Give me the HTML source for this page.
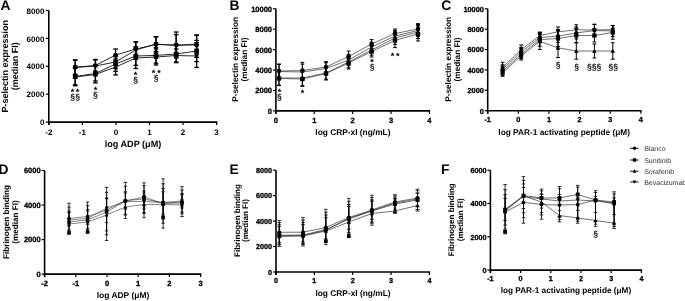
<!DOCTYPE html>
<html><head><meta charset="utf-8"><style>
html,body{margin:0;padding:0;background:#fff;}
body{width:685px;height:301px;overflow:hidden;}
svg{display:block;font-family:"Liberation Sans", sans-serif;text-rendering:geometricPrecision;}
#w{width:685px;height:301px;filter:grayscale(1);}
</style></head><body><div id="w">
<svg width="685" height="301" viewBox="0 0 685 301">
<rect width="685" height="301" fill="#fff"/>
<line x1="48.8" y1="10.5" x2="48.8" y2="125.1" stroke="#000" stroke-width="1.6"/>
<line x1="48.05" y1="122.1" x2="217.35" y2="122.1" stroke="#000" stroke-width="1.6"/>
<line x1="48.8" y1="122.1" x2="48.8" y2="125.1" stroke="#000" stroke-width="1.2"/>
<text x="48.8" y="134.7" font-size="8.0" font-weight="bold" text-anchor="middle" fill="#000">-2</text>
<line x1="82.36" y1="122.1" x2="82.36" y2="125.1" stroke="#000" stroke-width="1.2"/>
<text x="82.36" y="134.7" font-size="8.0" font-weight="bold" text-anchor="middle" fill="#000">-1</text>
<line x1="115.92" y1="122.1" x2="115.92" y2="125.1" stroke="#000" stroke-width="1.2"/>
<text x="115.92" y="134.7" font-size="8.0" font-weight="bold" text-anchor="middle" fill="#000">0</text>
<line x1="149.48" y1="122.1" x2="149.48" y2="125.1" stroke="#000" stroke-width="1.2"/>
<text x="149.48" y="134.7" font-size="8.0" font-weight="bold" text-anchor="middle" fill="#000">1</text>
<line x1="183.04" y1="122.1" x2="183.04" y2="125.1" stroke="#000" stroke-width="1.2"/>
<text x="183.04" y="134.7" font-size="8.0" font-weight="bold" text-anchor="middle" fill="#000">2</text>
<line x1="216.60" y1="122.1" x2="216.60" y2="125.1" stroke="#000" stroke-width="1.2"/>
<text x="216.60" y="134.7" font-size="8.0" font-weight="bold" text-anchor="middle" fill="#000">3</text>
<line x1="45.8" y1="122.1" x2="48.8" y2="122.1" stroke="#000" stroke-width="1.2"/>
<text x="44.4" y="125.22" font-size="8.0" font-weight="bold" text-anchor="end" fill="#000">0</text>
<line x1="45.8" y1="94.19" x2="48.8" y2="94.19" stroke="#000" stroke-width="1.2"/>
<text x="44.4" y="97.32" font-size="8.0" font-weight="bold" text-anchor="end" fill="#000">2000</text>
<line x1="45.8" y1="66.3" x2="48.8" y2="66.3" stroke="#000" stroke-width="1.2"/>
<text x="44.4" y="69.42" font-size="8.0" font-weight="bold" text-anchor="end" fill="#000">4000</text>
<line x1="45.8" y1="38.40" x2="48.8" y2="38.40" stroke="#000" stroke-width="1.2"/>
<text x="44.4" y="41.52" font-size="8.0" font-weight="bold" text-anchor="end" fill="#000">6000</text>
<line x1="45.8" y1="10.5" x2="48.8" y2="10.5" stroke="#000" stroke-width="1.2"/>
<text x="44.4" y="13.62" font-size="8.0" font-weight="bold" text-anchor="end" fill="#000">8000</text>
<text x="0.4" y="9.9" font-size="13.8" font-weight="bold" text-anchor="start" fill="#000">A</text>
<text x="133.0" y="147.3" font-size="9.1" font-weight="bold" text-anchor="middle" fill="#000">log ADP (μM)</text>
<text x="8.0" y="66.3" font-size="9.0" font-weight="bold" text-anchor="middle" fill="#000" transform="rotate(-90 8.0 66.3)">P-selectin expression</text>
<text x="18.2" y="66.3" font-size="9.0" font-weight="bold" text-anchor="middle" fill="#000" transform="rotate(-90 18.2 66.3)">(median FI)</text>
<polyline points="75.2,67.2 95.4,65.5 115.6,55 135.8,49 156.0,44.5 176.2,45 196.6,45" fill="none" stroke="#111" stroke-width="0.9"/>
<polyline points="75.2,76.5 95.4,73.5 115.6,64 135.8,56 156.0,55.4 176.2,54 196.6,51" fill="none" stroke="#111" stroke-width="0.9"/>
<polyline points="75.2,77 95.4,74.5 115.6,67 135.8,58 156.0,57 176.2,55.5 196.6,56" fill="none" stroke="#111" stroke-width="0.9"/>
<polyline points="75.2,67.5 95.4,66 115.6,62 135.8,50 156.0,44 176.2,45.5 196.6,44" fill="none" stroke="#111" stroke-width="0.9"/>
<line x1="75.2" y1="60.2" x2="75.2" y2="74.2" stroke="#000" stroke-width="1.3"/>
<line x1="72.9" y1="60.2" x2="77.5" y2="60.2" stroke="#000" stroke-width="1.3"/>
<line x1="72.9" y1="74.2" x2="77.5" y2="74.2" stroke="#000" stroke-width="1.3"/>
<line x1="95.4" y1="59.9" x2="95.4" y2="71.1" stroke="#000" stroke-width="1.3"/>
<line x1="93.10" y1="59.9" x2="97.7" y2="59.9" stroke="#000" stroke-width="1.3"/>
<line x1="93.10" y1="71.1" x2="97.7" y2="71.1" stroke="#000" stroke-width="1.3"/>
<line x1="115.6" y1="49.0" x2="115.6" y2="61.0" stroke="#000" stroke-width="1.3"/>
<line x1="113.3" y1="49.0" x2="117.89" y2="49.0" stroke="#000" stroke-width="1.3"/>
<line x1="113.3" y1="61.0" x2="117.89" y2="61.0" stroke="#000" stroke-width="1.3"/>
<line x1="135.8" y1="42.0" x2="135.8" y2="56.0" stroke="#000" stroke-width="1.3"/>
<line x1="133.5" y1="42.0" x2="138.10" y2="42.0" stroke="#000" stroke-width="1.3"/>
<line x1="133.5" y1="56.0" x2="138.10" y2="56.0" stroke="#000" stroke-width="1.3"/>
<line x1="156.0" y1="36.9" x2="156.0" y2="52.1" stroke="#000" stroke-width="1.3"/>
<line x1="153.7" y1="36.9" x2="158.3" y2="36.9" stroke="#000" stroke-width="1.3"/>
<line x1="153.7" y1="52.1" x2="158.3" y2="52.1" stroke="#000" stroke-width="1.3"/>
<line x1="176.2" y1="32.0" x2="176.2" y2="58.0" stroke="#000" stroke-width="1.3"/>
<line x1="173.89" y1="32.0" x2="178.5" y2="32.0" stroke="#000" stroke-width="1.3"/>
<line x1="173.89" y1="58.0" x2="178.5" y2="58.0" stroke="#000" stroke-width="1.3"/>
<line x1="196.6" y1="35.19" x2="196.6" y2="54.80" stroke="#000" stroke-width="1.3"/>
<line x1="194.29" y1="35.19" x2="198.9" y2="35.19" stroke="#000" stroke-width="1.3"/>
<line x1="194.29" y1="54.80" x2="198.9" y2="54.80" stroke="#000" stroke-width="1.3"/>
<line x1="75.2" y1="68.3" x2="75.2" y2="84.7" stroke="#000" stroke-width="1.3"/>
<line x1="72.9" y1="68.3" x2="77.5" y2="68.3" stroke="#000" stroke-width="1.3"/>
<line x1="72.9" y1="84.7" x2="77.5" y2="84.7" stroke="#000" stroke-width="1.3"/>
<line x1="95.4" y1="66.03" x2="95.4" y2="80.96" stroke="#000" stroke-width="1.3"/>
<line x1="93.10" y1="66.03" x2="97.7" y2="66.03" stroke="#000" stroke-width="1.3"/>
<line x1="93.10" y1="80.96" x2="97.7" y2="80.96" stroke="#000" stroke-width="1.3"/>
<line x1="115.6" y1="56.66" x2="115.6" y2="71.33" stroke="#000" stroke-width="1.3"/>
<line x1="113.3" y1="56.66" x2="117.89" y2="56.66" stroke="#000" stroke-width="1.3"/>
<line x1="113.3" y1="71.33" x2="117.89" y2="71.33" stroke="#000" stroke-width="1.3"/>
<line x1="135.8" y1="46.66" x2="135.8" y2="65.33" stroke="#000" stroke-width="1.3"/>
<line x1="133.5" y1="46.66" x2="138.10" y2="46.66" stroke="#000" stroke-width="1.3"/>
<line x1="133.5" y1="65.33" x2="138.10" y2="65.33" stroke="#000" stroke-width="1.3"/>
<line x1="156.0" y1="47.6" x2="156.0" y2="63.19" stroke="#000" stroke-width="1.3"/>
<line x1="153.7" y1="47.6" x2="158.3" y2="47.6" stroke="#000" stroke-width="1.3"/>
<line x1="153.7" y1="63.19" x2="158.3" y2="63.19" stroke="#000" stroke-width="1.3"/>
<line x1="176.2" y1="45.33" x2="176.2" y2="62.66" stroke="#000" stroke-width="1.3"/>
<line x1="173.89" y1="45.33" x2="178.5" y2="45.33" stroke="#000" stroke-width="1.3"/>
<line x1="173.89" y1="62.66" x2="178.5" y2="62.66" stroke="#000" stroke-width="1.3"/>
<line x1="196.6" y1="40.4" x2="196.6" y2="61.6" stroke="#000" stroke-width="1.3"/>
<line x1="194.29" y1="40.4" x2="198.9" y2="40.4" stroke="#000" stroke-width="1.3"/>
<line x1="194.29" y1="61.6" x2="198.9" y2="61.6" stroke="#000" stroke-width="1.3"/>
<line x1="75.2" y1="68.2" x2="75.2" y2="85.8" stroke="#000" stroke-width="1.3"/>
<line x1="72.9" y1="68.2" x2="77.5" y2="68.2" stroke="#000" stroke-width="1.3"/>
<line x1="72.9" y1="85.8" x2="77.5" y2="85.8" stroke="#000" stroke-width="1.3"/>
<line x1="95.4" y1="66.1" x2="95.4" y2="82.9" stroke="#000" stroke-width="1.3"/>
<line x1="93.10" y1="66.1" x2="97.7" y2="66.1" stroke="#000" stroke-width="1.3"/>
<line x1="93.10" y1="82.9" x2="97.7" y2="82.9" stroke="#000" stroke-width="1.3"/>
<line x1="115.6" y1="59.0" x2="115.6" y2="75.0" stroke="#000" stroke-width="1.3"/>
<line x1="113.3" y1="59.0" x2="117.89" y2="59.0" stroke="#000" stroke-width="1.3"/>
<line x1="113.3" y1="75.0" x2="117.89" y2="75.0" stroke="#000" stroke-width="1.3"/>
<line x1="135.8" y1="47.5" x2="135.8" y2="68.5" stroke="#000" stroke-width="1.3"/>
<line x1="133.5" y1="47.5" x2="138.10" y2="47.5" stroke="#000" stroke-width="1.3"/>
<line x1="133.5" y1="68.5" x2="138.10" y2="68.5" stroke="#000" stroke-width="1.3"/>
<line x1="156.0" y1="49.0" x2="156.0" y2="65.0" stroke="#000" stroke-width="1.3"/>
<line x1="153.7" y1="49.0" x2="158.3" y2="49.0" stroke="#000" stroke-width="1.3"/>
<line x1="153.7" y1="65.0" x2="158.3" y2="65.0" stroke="#000" stroke-width="1.3"/>
<line x1="176.2" y1="49.0" x2="176.2" y2="62.0" stroke="#000" stroke-width="1.3"/>
<line x1="173.89" y1="49.0" x2="178.5" y2="49.0" stroke="#000" stroke-width="1.3"/>
<line x1="173.89" y1="62.0" x2="178.5" y2="62.0" stroke="#000" stroke-width="1.3"/>
<line x1="196.6" y1="44.59" x2="196.6" y2="67.4" stroke="#000" stroke-width="1.3"/>
<line x1="194.29" y1="44.59" x2="198.9" y2="44.59" stroke="#000" stroke-width="1.3"/>
<line x1="194.29" y1="67.4" x2="198.9" y2="67.4" stroke="#000" stroke-width="1.3"/>
<line x1="75.2" y1="59.9" x2="75.2" y2="75.1" stroke="#000" stroke-width="1.3"/>
<line x1="72.9" y1="59.9" x2="77.5" y2="59.9" stroke="#000" stroke-width="1.3"/>
<line x1="72.9" y1="75.1" x2="77.5" y2="75.1" stroke="#000" stroke-width="1.3"/>
<line x1="95.4" y1="59.46" x2="95.4" y2="72.53" stroke="#000" stroke-width="1.3"/>
<line x1="93.10" y1="59.46" x2="97.7" y2="59.46" stroke="#000" stroke-width="1.3"/>
<line x1="93.10" y1="72.53" x2="97.7" y2="72.53" stroke="#000" stroke-width="1.3"/>
<line x1="115.6" y1="55.33" x2="115.6" y2="68.66" stroke="#000" stroke-width="1.3"/>
<line x1="113.3" y1="55.33" x2="117.89" y2="55.33" stroke="#000" stroke-width="1.3"/>
<line x1="113.3" y1="68.66" x2="117.89" y2="68.66" stroke="#000" stroke-width="1.3"/>
<line x1="135.8" y1="41.83" x2="135.8" y2="58.16" stroke="#000" stroke-width="1.3"/>
<line x1="133.5" y1="41.83" x2="138.10" y2="41.83" stroke="#000" stroke-width="1.3"/>
<line x1="133.5" y1="58.16" x2="138.10" y2="58.16" stroke="#000" stroke-width="1.3"/>
<line x1="156.0" y1="36.6" x2="156.0" y2="51.4" stroke="#000" stroke-width="1.3"/>
<line x1="153.7" y1="36.6" x2="158.3" y2="36.6" stroke="#000" stroke-width="1.3"/>
<line x1="153.7" y1="51.4" x2="158.3" y2="51.4" stroke="#000" stroke-width="1.3"/>
<line x1="176.2" y1="34.66" x2="176.2" y2="56.33" stroke="#000" stroke-width="1.3"/>
<line x1="173.89" y1="34.66" x2="178.5" y2="34.66" stroke="#000" stroke-width="1.3"/>
<line x1="173.89" y1="56.33" x2="178.5" y2="56.33" stroke="#000" stroke-width="1.3"/>
<line x1="196.6" y1="35.0" x2="196.6" y2="53.0" stroke="#000" stroke-width="1.3"/>
<line x1="194.29" y1="35.0" x2="198.9" y2="35.0" stroke="#000" stroke-width="1.3"/>
<line x1="194.29" y1="53.0" x2="198.9" y2="53.0" stroke="#000" stroke-width="1.3"/>
<circle cx="75.2" cy="67.2" r="2.35" fill="#000"/>
<circle cx="95.4" cy="65.5" r="2.35" fill="#000"/>
<circle cx="115.6" cy="55" r="2.35" fill="#000"/>
<circle cx="135.8" cy="49" r="2.35" fill="#000"/>
<circle cx="156.0" cy="44.5" r="2.35" fill="#000"/>
<circle cx="176.2" cy="45" r="2.35" fill="#000"/>
<circle cx="196.6" cy="45" r="2.35" fill="#000"/>
<rect x="72.85" y="74.15" width="4.7" height="4.7" fill="#000"/>
<rect x="93.05" y="71.15" width="4.7" height="4.7" fill="#000"/>
<rect x="113.25" y="61.65" width="4.7" height="4.7" fill="#000"/>
<rect x="133.45" y="53.65" width="4.7" height="4.7" fill="#000"/>
<rect x="153.65" y="53.05" width="4.7" height="4.7" fill="#000"/>
<rect x="173.85" y="51.65" width="4.7" height="4.7" fill="#000"/>
<rect x="194.25" y="48.65" width="4.7" height="4.7" fill="#000"/>
<polygon points="75.2,74.41 77.78,79.06 72.61,79.06" fill="#000"/>
<polygon points="95.4,71.91 97.98,76.56 92.81,76.56" fill="#000"/>
<polygon points="115.6,64.41 118.18,69.06 113.01,69.06" fill="#000"/>
<polygon points="135.8,55.41 138.38,60.06 133.21,60.06" fill="#000"/>
<polygon points="156.0,54.41 158.58,59.06 153.41,59.06" fill="#000"/>
<polygon points="176.2,52.91 178.78,57.56 173.61,57.56" fill="#000"/>
<polygon points="196.6,53.41 199.18,58.06 194.01,58.06" fill="#000"/>
<polygon points="75.2,70.08 77.78,65.43 72.61,65.43" fill="#000"/>
<polygon points="95.4,68.58 97.98,63.93 92.81,63.93" fill="#000"/>
<polygon points="115.6,64.58 118.18,59.93 113.01,59.93" fill="#000"/>
<polygon points="135.8,52.58 138.38,47.93 133.21,47.93" fill="#000"/>
<polygon points="156.0,46.58 158.58,41.93 153.41,41.93" fill="#000"/>
<polygon points="176.2,48.08 178.78,43.43 173.61,43.43" fill="#000"/>
<polygon points="196.6,46.58 199.18,41.93 194.01,41.93" fill="#000"/>
<text x="72.5" y="95.2" font-size="9" font-weight="bold" text-anchor="middle" fill="#000">*</text>
<text x="72.5" y="100" font-size="8.5" font-weight="normal" text-anchor="middle" fill="#111" stroke="#111" stroke-width="0.25">§</text>
<text x="77.5" y="95.2" font-size="9" font-weight="bold" text-anchor="middle" fill="#000">*</text>
<text x="77.5" y="100" font-size="8.5" font-weight="normal" text-anchor="middle" fill="#111" stroke="#111" stroke-width="0.25">§</text>
<text x="95.4" y="93.0" font-size="9" font-weight="bold" text-anchor="middle" fill="#000">*</text>
<text x="95.4" y="98.2" font-size="8.5" font-weight="normal" text-anchor="middle" fill="#111" stroke="#111" stroke-width="0.25">§</text>
<text x="135.5" y="78.0" font-size="9" font-weight="bold" text-anchor="middle" fill="#000">*</text>
<text x="135.5" y="83" font-size="8.5" font-weight="normal" text-anchor="middle" fill="#111" stroke="#111" stroke-width="0.25">§</text>
<text x="153.5" y="75.5" font-size="9" font-weight="bold" text-anchor="middle" fill="#000">*</text>
<text x="159" y="75.5" font-size="9" font-weight="bold" text-anchor="middle" fill="#000">*</text>
<text x="156" y="80.7" font-size="8.5" font-weight="normal" text-anchor="middle" fill="#111" stroke="#111" stroke-width="0.25">§</text>
<line x1="275.9" y1="8.79" x2="275.9" y2="113.9" stroke="#000" stroke-width="1.6"/>
<line x1="275.15" y1="110.9" x2="430.16" y2="110.9" stroke="#000" stroke-width="1.6"/>
<line x1="275.9" y1="110.9" x2="275.9" y2="113.9" stroke="#000" stroke-width="1.2"/>
<text x="275.9" y="122.5" font-size="7.5" font-weight="bold" text-anchor="middle" fill="#000" stroke="#000" stroke-width="0.3">0</text>
<line x1="314.28" y1="110.9" x2="314.28" y2="113.9" stroke="#000" stroke-width="1.2"/>
<text x="314.28" y="122.5" font-size="7.5" font-weight="bold" text-anchor="middle" fill="#000" stroke="#000" stroke-width="0.3">1</text>
<line x1="352.65" y1="110.9" x2="352.65" y2="113.9" stroke="#000" stroke-width="1.2"/>
<text x="352.65" y="122.5" font-size="7.5" font-weight="bold" text-anchor="middle" fill="#000" stroke="#000" stroke-width="0.3">2</text>
<line x1="391.03" y1="110.9" x2="391.03" y2="113.9" stroke="#000" stroke-width="1.2"/>
<text x="391.03" y="122.5" font-size="7.5" font-weight="bold" text-anchor="middle" fill="#000" stroke="#000" stroke-width="0.3">3</text>
<line x1="429.41" y1="110.9" x2="429.41" y2="113.9" stroke="#000" stroke-width="1.2"/>
<text x="429.41" y="122.5" font-size="7.5" font-weight="bold" text-anchor="middle" fill="#000" stroke="#000" stroke-width="0.3">4</text>
<line x1="272.9" y1="110.9" x2="275.9" y2="110.9" stroke="#000" stroke-width="1.2"/>
<text x="272.0" y="113.82" font-size="7.5" font-weight="bold" text-anchor="end" fill="#000" stroke="#000" stroke-width="0.3">0</text>
<line x1="272.9" y1="90.48" x2="275.9" y2="90.48" stroke="#000" stroke-width="1.2"/>
<text x="272.0" y="93.40" font-size="7.5" font-weight="bold" text-anchor="end" fill="#000" stroke="#000" stroke-width="0.3">2000</text>
<line x1="272.9" y1="70.06" x2="275.9" y2="70.06" stroke="#000" stroke-width="1.2"/>
<text x="272.0" y="72.98" font-size="7.5" font-weight="bold" text-anchor="end" fill="#000" stroke="#000" stroke-width="0.3">4000</text>
<line x1="272.9" y1="49.64" x2="275.9" y2="49.64" stroke="#000" stroke-width="1.2"/>
<text x="272.0" y="52.56" font-size="7.5" font-weight="bold" text-anchor="end" fill="#000" stroke="#000" stroke-width="0.3">6000</text>
<line x1="272.9" y1="29.22" x2="275.9" y2="29.22" stroke="#000" stroke-width="1.2"/>
<text x="272.0" y="32.14" font-size="7.5" font-weight="bold" text-anchor="end" fill="#000" stroke="#000" stroke-width="0.3">8000</text>
<line x1="272.9" y1="8.79" x2="275.9" y2="8.79" stroke="#000" stroke-width="1.2"/>
<text x="272.0" y="11.72" font-size="7.5" font-weight="bold" text-anchor="end" fill="#000" stroke="#000" stroke-width="0.3">10000</text>
<text x="229.4" y="9.9" font-size="13.8" font-weight="bold" text-anchor="start" fill="#000">B</text>
<text x="352.9" y="135.1" font-size="8.35" font-weight="bold" text-anchor="middle" fill="#000">log CRP-xl (ng/mL)</text>
<text x="238.2" y="59.4" font-size="8.25" font-weight="bold" text-anchor="middle" fill="#000" transform="rotate(-90 238.2 59.4)">P-selectin expression</text>
<text x="247.4" y="59.4" font-size="8.25" font-weight="bold" text-anchor="middle" fill="#000" transform="rotate(-90 247.4 59.4)">(median FI)</text>
<polyline points="279,71 302.4,70.5 326,67 348.6,56.5 371.6,44 395,33.5 418,29" fill="none" stroke="#333" stroke-width="0.7"/>
<polyline points="279,78.4 302.4,79 326,73.5 348.6,63 371.6,51.5 395,40.4 418,34" fill="none" stroke="#333" stroke-width="0.7"/>
<polyline points="279,78 302.4,78 326,73 348.6,62 371.6,50 395,38 418,32" fill="none" stroke="#333" stroke-width="0.7"/>
<polyline points="279,71.5 302.4,72 326,68.5 348.6,60 371.6,47 395,36 418,30.5" fill="none" stroke="#333" stroke-width="0.7"/>
<line x1="279" y1="64.0" x2="279" y2="78.0" stroke="#000" stroke-width="1.0"/>
<line x1="277.1" y1="64.0" x2="280.9" y2="64.0" stroke="#000" stroke-width="1.0"/>
<line x1="277.1" y1="78.0" x2="280.9" y2="78.0" stroke="#000" stroke-width="1.0"/>
<line x1="302.4" y1="62.4" x2="302.4" y2="78.6" stroke="#000" stroke-width="1.0"/>
<line x1="300.5" y1="62.4" x2="304.29" y2="62.4" stroke="#000" stroke-width="1.0"/>
<line x1="300.5" y1="78.6" x2="304.29" y2="78.6" stroke="#000" stroke-width="1.0"/>
<line x1="326" y1="61.6" x2="326" y2="72.4" stroke="#000" stroke-width="1.0"/>
<line x1="324.1" y1="61.6" x2="327.9" y2="61.6" stroke="#000" stroke-width="1.0"/>
<line x1="324.1" y1="72.4" x2="327.9" y2="72.4" stroke="#000" stroke-width="1.0"/>
<line x1="348.6" y1="51.0" x2="348.6" y2="62.0" stroke="#000" stroke-width="1.0"/>
<line x1="346.70" y1="51.0" x2="350.5" y2="51.0" stroke="#000" stroke-width="1.0"/>
<line x1="346.70" y1="62.0" x2="350.5" y2="62.0" stroke="#000" stroke-width="1.0"/>
<line x1="371.6" y1="39.6" x2="371.6" y2="48.4" stroke="#000" stroke-width="1.0"/>
<line x1="369.70" y1="39.6" x2="373.5" y2="39.6" stroke="#000" stroke-width="1.0"/>
<line x1="369.70" y1="48.4" x2="373.5" y2="48.4" stroke="#000" stroke-width="1.0"/>
<line x1="395" y1="29.0" x2="395" y2="38.0" stroke="#000" stroke-width="1.0"/>
<line x1="393.1" y1="29.0" x2="396.9" y2="29.0" stroke="#000" stroke-width="1.0"/>
<line x1="393.1" y1="38.0" x2="396.9" y2="38.0" stroke="#000" stroke-width="1.0"/>
<line x1="418" y1="23.6" x2="418" y2="34.4" stroke="#000" stroke-width="1.0"/>
<line x1="416.1" y1="23.6" x2="419.9" y2="23.6" stroke="#000" stroke-width="1.0"/>
<line x1="416.1" y1="34.4" x2="419.9" y2="34.4" stroke="#000" stroke-width="1.0"/>
<line x1="279" y1="71.20" x2="279" y2="85.6" stroke="#000" stroke-width="1.0"/>
<line x1="277.1" y1="71.20" x2="280.9" y2="71.20" stroke="#000" stroke-width="1.0"/>
<line x1="277.1" y1="85.6" x2="280.9" y2="85.6" stroke="#000" stroke-width="1.0"/>
<line x1="302.4" y1="71.6" x2="302.4" y2="86.4" stroke="#000" stroke-width="1.0"/>
<line x1="300.5" y1="71.6" x2="304.29" y2="71.6" stroke="#000" stroke-width="1.0"/>
<line x1="300.5" y1="86.4" x2="304.29" y2="86.4" stroke="#000" stroke-width="1.0"/>
<line x1="326" y1="67.0" x2="326" y2="80.0" stroke="#000" stroke-width="1.0"/>
<line x1="324.1" y1="67.0" x2="327.9" y2="67.0" stroke="#000" stroke-width="1.0"/>
<line x1="324.1" y1="80.0" x2="327.9" y2="80.0" stroke="#000" stroke-width="1.0"/>
<line x1="348.6" y1="57.0" x2="348.6" y2="69.0" stroke="#000" stroke-width="1.0"/>
<line x1="346.70" y1="57.0" x2="350.5" y2="57.0" stroke="#000" stroke-width="1.0"/>
<line x1="346.70" y1="69.0" x2="350.5" y2="69.0" stroke="#000" stroke-width="1.0"/>
<line x1="371.6" y1="46.0" x2="371.6" y2="57.0" stroke="#000" stroke-width="1.0"/>
<line x1="369.70" y1="46.0" x2="373.5" y2="46.0" stroke="#000" stroke-width="1.0"/>
<line x1="369.70" y1="57.0" x2="373.5" y2="57.0" stroke="#000" stroke-width="1.0"/>
<line x1="395" y1="33.19" x2="395" y2="47.6" stroke="#000" stroke-width="1.0"/>
<line x1="393.1" y1="33.19" x2="396.9" y2="33.19" stroke="#000" stroke-width="1.0"/>
<line x1="393.1" y1="47.6" x2="396.9" y2="47.6" stroke="#000" stroke-width="1.0"/>
<line x1="418" y1="27.0" x2="418" y2="41.0" stroke="#000" stroke-width="1.0"/>
<line x1="416.1" y1="27.0" x2="419.9" y2="27.0" stroke="#000" stroke-width="1.0"/>
<line x1="416.1" y1="41.0" x2="419.9" y2="41.0" stroke="#000" stroke-width="1.0"/>
<line x1="279" y1="70.86" x2="279" y2="85.13" stroke="#000" stroke-width="1.0"/>
<line x1="277.1" y1="70.86" x2="280.9" y2="70.86" stroke="#000" stroke-width="1.0"/>
<line x1="277.1" y1="85.13" x2="280.9" y2="85.13" stroke="#000" stroke-width="1.0"/>
<line x1="302.4" y1="70.36" x2="302.4" y2="85.63" stroke="#000" stroke-width="1.0"/>
<line x1="300.5" y1="70.36" x2="304.29" y2="70.36" stroke="#000" stroke-width="1.0"/>
<line x1="300.5" y1="85.63" x2="304.29" y2="85.63" stroke="#000" stroke-width="1.0"/>
<line x1="326" y1="66.86" x2="326" y2="79.13" stroke="#000" stroke-width="1.0"/>
<line x1="324.1" y1="66.86" x2="327.9" y2="66.86" stroke="#000" stroke-width="1.0"/>
<line x1="324.1" y1="79.13" x2="327.9" y2="79.13" stroke="#000" stroke-width="1.0"/>
<line x1="348.6" y1="56.16" x2="348.6" y2="67.83" stroke="#000" stroke-width="1.0"/>
<line x1="346.70" y1="56.16" x2="350.5" y2="56.16" stroke="#000" stroke-width="1.0"/>
<line x1="346.70" y1="67.83" x2="350.5" y2="67.83" stroke="#000" stroke-width="1.0"/>
<line x1="371.6" y1="44.86" x2="371.6" y2="55.13" stroke="#000" stroke-width="1.0"/>
<line x1="369.70" y1="44.86" x2="373.5" y2="44.86" stroke="#000" stroke-width="1.0"/>
<line x1="369.70" y1="55.13" x2="373.5" y2="55.13" stroke="#000" stroke-width="1.0"/>
<line x1="395" y1="31.7" x2="395" y2="44.30" stroke="#000" stroke-width="1.0"/>
<line x1="393.1" y1="31.7" x2="396.9" y2="31.7" stroke="#000" stroke-width="1.0"/>
<line x1="393.1" y1="44.30" x2="396.9" y2="44.30" stroke="#000" stroke-width="1.0"/>
<line x1="418" y1="25.53" x2="418" y2="38.46" stroke="#000" stroke-width="1.0"/>
<line x1="416.1" y1="25.53" x2="419.9" y2="25.53" stroke="#000" stroke-width="1.0"/>
<line x1="416.1" y1="38.46" x2="419.9" y2="38.46" stroke="#000" stroke-width="1.0"/>
<line x1="279" y1="64.43" x2="279" y2="78.56" stroke="#000" stroke-width="1.0"/>
<line x1="277.1" y1="64.43" x2="280.9" y2="64.43" stroke="#000" stroke-width="1.0"/>
<line x1="277.1" y1="78.56" x2="280.9" y2="78.56" stroke="#000" stroke-width="1.0"/>
<line x1="302.4" y1="64.13" x2="302.4" y2="79.86" stroke="#000" stroke-width="1.0"/>
<line x1="300.5" y1="64.13" x2="304.29" y2="64.13" stroke="#000" stroke-width="1.0"/>
<line x1="300.5" y1="79.86" x2="304.29" y2="79.86" stroke="#000" stroke-width="1.0"/>
<line x1="326" y1="62.73" x2="326" y2="74.26" stroke="#000" stroke-width="1.0"/>
<line x1="324.1" y1="62.73" x2="327.9" y2="62.73" stroke="#000" stroke-width="1.0"/>
<line x1="324.1" y1="74.26" x2="327.9" y2="74.26" stroke="#000" stroke-width="1.0"/>
<line x1="348.6" y1="54.33" x2="348.6" y2="65.66" stroke="#000" stroke-width="1.0"/>
<line x1="346.70" y1="54.33" x2="350.5" y2="54.33" stroke="#000" stroke-width="1.0"/>
<line x1="346.70" y1="65.66" x2="350.5" y2="65.66" stroke="#000" stroke-width="1.0"/>
<line x1="371.6" y1="42.23" x2="371.6" y2="51.76" stroke="#000" stroke-width="1.0"/>
<line x1="369.70" y1="42.23" x2="373.5" y2="42.23" stroke="#000" stroke-width="1.0"/>
<line x1="369.70" y1="51.76" x2="373.5" y2="51.76" stroke="#000" stroke-width="1.0"/>
<line x1="395" y1="30.59" x2="395" y2="41.4" stroke="#000" stroke-width="1.0"/>
<line x1="393.1" y1="30.59" x2="396.9" y2="30.59" stroke="#000" stroke-width="1.0"/>
<line x1="393.1" y1="41.4" x2="396.9" y2="41.4" stroke="#000" stroke-width="1.0"/>
<line x1="418" y1="24.56" x2="418" y2="36.43" stroke="#000" stroke-width="1.0"/>
<line x1="416.1" y1="24.56" x2="419.9" y2="24.56" stroke="#000" stroke-width="1.0"/>
<line x1="416.1" y1="36.43" x2="419.9" y2="36.43" stroke="#000" stroke-width="1.0"/>
<circle cx="279" cy="71" r="2.2" fill="#000"/>
<circle cx="302.4" cy="70.5" r="2.2" fill="#000"/>
<circle cx="326" cy="67" r="2.2" fill="#000"/>
<circle cx="348.6" cy="56.5" r="2.2" fill="#000"/>
<circle cx="371.6" cy="44" r="2.2" fill="#000"/>
<circle cx="395" cy="33.5" r="2.2" fill="#000"/>
<circle cx="418" cy="29" r="2.2" fill="#000"/>
<rect x="276.8" y="76.2" width="4.4" height="4.4" fill="#000"/>
<rect x="300.2" y="76.8" width="4.4" height="4.4" fill="#000"/>
<rect x="323.8" y="71.3" width="4.4" height="4.4" fill="#000"/>
<rect x="346.40" y="60.8" width="4.4" height="4.4" fill="#000"/>
<rect x="369.40" y="49.3" width="4.4" height="4.4" fill="#000"/>
<rect x="392.8" y="38.19" width="4.4" height="4.4" fill="#000"/>
<rect x="415.8" y="31.8" width="4.4" height="4.4" fill="#000"/>
<polygon points="279,75.58 281.42,79.93 276.58,79.93" fill="#000"/>
<polygon points="302.4,75.58 304.82,79.93 299.97,79.93" fill="#000"/>
<polygon points="326,70.58 328.42,74.93 323.58,74.93" fill="#000"/>
<polygon points="348.6,59.58 351.02,63.93 346.18,63.93" fill="#000"/>
<polygon points="371.6,47.58 374.02,51.93 369.18,51.93" fill="#000"/>
<polygon points="395,35.58 397.42,39.93 392.58,39.93" fill="#000"/>
<polygon points="418,29.58 420.42,33.93 415.58,33.93" fill="#000"/>
<polygon points="279,73.92 281.42,69.56 276.58,69.56" fill="#000"/>
<polygon points="302.4,74.42 304.82,70.06 299.97,70.06" fill="#000"/>
<polygon points="326,70.92 328.42,66.56 323.58,66.56" fill="#000"/>
<polygon points="348.6,62.42 351.02,58.06 346.18,58.06" fill="#000"/>
<polygon points="371.6,49.42 374.02,45.06 369.18,45.06" fill="#000"/>
<polygon points="395,38.42 397.42,34.06 392.58,34.06" fill="#000"/>
<polygon points="418,32.92 420.42,28.56 415.58,28.56" fill="#000"/>
<text x="279.6" y="95.2" font-size="9" font-weight="bold" text-anchor="middle" fill="#000">*</text>
<text x="279.4" y="100" font-size="8.5" font-weight="normal" text-anchor="middle" fill="#111" stroke="#111" stroke-width="0.25">§</text>
<text x="302.4" y="95.5" font-size="9" font-weight="bold" text-anchor="middle" fill="#000">*</text>
<text x="372" y="64.5" font-size="9" font-weight="bold" text-anchor="middle" fill="#000">*</text>
<text x="372" y="69.9" font-size="8.5" font-weight="normal" text-anchor="middle" fill="#111" stroke="#111" stroke-width="0.25">§</text>
<text x="392.5" y="59.2" font-size="9" font-weight="bold" text-anchor="middle" fill="#000">*</text>
<text x="397.8" y="59.2" font-size="9" font-weight="bold" text-anchor="middle" fill="#000">*</text>
<line x1="487.7" y1="8.80" x2="487.7" y2="113.7" stroke="#000" stroke-width="1.6"/>
<line x1="486.95" y1="110.7" x2="641.65" y2="110.7" stroke="#000" stroke-width="1.6"/>
<line x1="487.7" y1="110.7" x2="487.7" y2="113.7" stroke="#000" stroke-width="1.2"/>
<text x="487.7" y="122.4" font-size="7.3" font-weight="bold" text-anchor="middle" fill="#000" stroke="#000" stroke-width="0.3">-1</text>
<line x1="518.34" y1="110.7" x2="518.34" y2="113.7" stroke="#000" stroke-width="1.2"/>
<text x="518.34" y="122.4" font-size="7.3" font-weight="bold" text-anchor="middle" fill="#000" stroke="#000" stroke-width="0.3">0</text>
<line x1="548.98" y1="110.7" x2="548.98" y2="113.7" stroke="#000" stroke-width="1.2"/>
<text x="548.98" y="122.4" font-size="7.3" font-weight="bold" text-anchor="middle" fill="#000" stroke="#000" stroke-width="0.3">1</text>
<line x1="579.62" y1="110.7" x2="579.62" y2="113.7" stroke="#000" stroke-width="1.2"/>
<text x="579.62" y="122.4" font-size="7.3" font-weight="bold" text-anchor="middle" fill="#000" stroke="#000" stroke-width="0.3">2</text>
<line x1="610.26" y1="110.7" x2="610.26" y2="113.7" stroke="#000" stroke-width="1.2"/>
<text x="610.26" y="122.4" font-size="7.3" font-weight="bold" text-anchor="middle" fill="#000" stroke="#000" stroke-width="0.3">3</text>
<line x1="640.9" y1="110.7" x2="640.9" y2="113.7" stroke="#000" stroke-width="1.2"/>
<text x="640.9" y="122.4" font-size="7.3" font-weight="bold" text-anchor="middle" fill="#000" stroke="#000" stroke-width="0.3">4</text>
<line x1="484.7" y1="110.7" x2="487.7" y2="110.7" stroke="#000" stroke-width="1.2"/>
<text x="483.8" y="113.54" font-size="7.3" font-weight="bold" text-anchor="end" fill="#000" stroke="#000" stroke-width="0.3">0</text>
<line x1="484.7" y1="90.32" x2="487.7" y2="90.32" stroke="#000" stroke-width="1.2"/>
<text x="483.8" y="93.16" font-size="7.3" font-weight="bold" text-anchor="end" fill="#000" stroke="#000" stroke-width="0.3">2000</text>
<line x1="484.7" y1="69.94" x2="487.7" y2="69.94" stroke="#000" stroke-width="1.2"/>
<text x="483.8" y="72.78" font-size="7.3" font-weight="bold" text-anchor="end" fill="#000" stroke="#000" stroke-width="0.3">4000</text>
<line x1="484.7" y1="49.56" x2="487.7" y2="49.56" stroke="#000" stroke-width="1.2"/>
<text x="483.8" y="52.40" font-size="7.3" font-weight="bold" text-anchor="end" fill="#000" stroke="#000" stroke-width="0.3">6000</text>
<line x1="484.7" y1="29.18" x2="487.7" y2="29.18" stroke="#000" stroke-width="1.2"/>
<text x="483.8" y="32.02" font-size="7.3" font-weight="bold" text-anchor="end" fill="#000" stroke="#000" stroke-width="0.3">8000</text>
<line x1="484.7" y1="8.80" x2="487.7" y2="8.80" stroke="#000" stroke-width="1.2"/>
<text x="483.8" y="11.64" font-size="7.3" font-weight="bold" text-anchor="end" fill="#000" stroke="#000" stroke-width="0.3">10000</text>
<text x="441.2" y="9.9" font-size="13.8" font-weight="bold" text-anchor="start" fill="#000">C</text>
<text x="564.2" y="134.7" font-size="8.3" font-weight="bold" text-anchor="middle" fill="#000">log PAR-1 activating peptide (μM)</text>
<text x="450.6" y="59.4" font-size="8.25" font-weight="bold" text-anchor="middle" fill="#000" transform="rotate(-90 450.6 59.4)">P-selectin expression</text>
<text x="459.6" y="59.4" font-size="8.25" font-weight="bold" text-anchor="middle" fill="#000" transform="rotate(-90 459.6 59.4)">(median FI)</text>
<polyline points="502.6,69.3 521.2,51.8 539.8,37.6 558,36 576.3,33 594.4,30.5 612.8,31" fill="none" stroke="#333" stroke-width="0.7"/>
<polyline points="502.6,71.2 521.2,54.2 539.8,39.6 558,38.5 576.3,35.5 594.4,35.5 612.8,32.4" fill="none" stroke="#333" stroke-width="0.7"/>
<polyline points="502.6,72.8 521.2,55.8 539.8,41.4 558,47.8 576.3,51 594.4,51 612.8,51" fill="none" stroke="#333" stroke-width="0.7"/>
<polyline points="502.6,67.4 521.2,49.6 539.8,35.6 558,31.8 576.3,29.8 594.4,30 612.8,29.6" fill="none" stroke="#333" stroke-width="0.7"/>
<line x1="502.6" y1="64.73" x2="502.6" y2="73.86" stroke="#000" stroke-width="1.0"/>
<line x1="500.70" y1="64.73" x2="504.5" y2="64.73" stroke="#000" stroke-width="1.0"/>
<line x1="500.70" y1="73.86" x2="504.5" y2="73.86" stroke="#000" stroke-width="1.0"/>
<line x1="521.2" y1="47.33" x2="521.2" y2="56.26" stroke="#000" stroke-width="1.0"/>
<line x1="519.30" y1="47.33" x2="523.1" y2="47.33" stroke="#000" stroke-width="1.0"/>
<line x1="519.30" y1="56.26" x2="523.1" y2="56.26" stroke="#000" stroke-width="1.0"/>
<line x1="539.8" y1="32.5" x2="539.8" y2="42.7" stroke="#000" stroke-width="1.0"/>
<line x1="537.9" y1="32.5" x2="541.69" y2="32.5" stroke="#000" stroke-width="1.0"/>
<line x1="537.9" y1="42.7" x2="541.69" y2="42.7" stroke="#000" stroke-width="1.0"/>
<line x1="558" y1="29.56" x2="558" y2="42.43" stroke="#000" stroke-width="1.0"/>
<line x1="556.1" y1="29.56" x2="559.9" y2="29.56" stroke="#000" stroke-width="1.0"/>
<line x1="556.1" y1="42.43" x2="559.9" y2="42.43" stroke="#000" stroke-width="1.0"/>
<line x1="576.3" y1="26.93" x2="576.3" y2="39.06" stroke="#000" stroke-width="1.0"/>
<line x1="574.4" y1="26.93" x2="578.19" y2="26.93" stroke="#000" stroke-width="1.0"/>
<line x1="574.4" y1="39.06" x2="578.19" y2="39.06" stroke="#000" stroke-width="1.0"/>
<line x1="594.4" y1="24.36" x2="594.4" y2="36.63" stroke="#000" stroke-width="1.0"/>
<line x1="592.5" y1="24.36" x2="596.3" y2="24.36" stroke="#000" stroke-width="1.0"/>
<line x1="592.5" y1="36.63" x2="596.3" y2="36.63" stroke="#000" stroke-width="1.0"/>
<line x1="612.8" y1="25.53" x2="612.8" y2="36.46" stroke="#000" stroke-width="1.0"/>
<line x1="610.9" y1="25.53" x2="614.69" y2="25.53" stroke="#000" stroke-width="1.0"/>
<line x1="610.9" y1="36.46" x2="614.69" y2="36.46" stroke="#000" stroke-width="1.0"/>
<line x1="502.6" y1="67.16" x2="502.6" y2="75.23" stroke="#000" stroke-width="1.0"/>
<line x1="500.70" y1="67.16" x2="504.5" y2="67.16" stroke="#000" stroke-width="1.0"/>
<line x1="500.70" y1="75.23" x2="504.5" y2="75.23" stroke="#000" stroke-width="1.0"/>
<line x1="521.2" y1="49.86" x2="521.2" y2="58.53" stroke="#000" stroke-width="1.0"/>
<line x1="519.30" y1="49.86" x2="523.1" y2="49.86" stroke="#000" stroke-width="1.0"/>
<line x1="519.30" y1="58.53" x2="523.1" y2="58.53" stroke="#000" stroke-width="1.0"/>
<line x1="539.8" y1="33.0" x2="539.8" y2="46.2" stroke="#000" stroke-width="1.0"/>
<line x1="537.9" y1="33.0" x2="541.69" y2="33.0" stroke="#000" stroke-width="1.0"/>
<line x1="537.9" y1="46.2" x2="541.69" y2="46.2" stroke="#000" stroke-width="1.0"/>
<line x1="558" y1="30.43" x2="558" y2="46.56" stroke="#000" stroke-width="1.0"/>
<line x1="556.1" y1="30.43" x2="559.9" y2="30.43" stroke="#000" stroke-width="1.0"/>
<line x1="556.1" y1="46.56" x2="559.9" y2="46.56" stroke="#000" stroke-width="1.0"/>
<line x1="576.3" y1="28.36" x2="576.3" y2="42.63" stroke="#000" stroke-width="1.0"/>
<line x1="574.4" y1="28.36" x2="578.19" y2="28.36" stroke="#000" stroke-width="1.0"/>
<line x1="574.4" y1="42.63" x2="578.19" y2="42.63" stroke="#000" stroke-width="1.0"/>
<line x1="594.4" y1="28.93" x2="594.4" y2="42.06" stroke="#000" stroke-width="1.0"/>
<line x1="592.5" y1="28.93" x2="596.3" y2="28.93" stroke="#000" stroke-width="1.0"/>
<line x1="592.5" y1="42.06" x2="596.3" y2="42.06" stroke="#000" stroke-width="1.0"/>
<line x1="612.8" y1="25.56" x2="612.8" y2="39.23" stroke="#000" stroke-width="1.0"/>
<line x1="610.9" y1="25.56" x2="614.69" y2="25.56" stroke="#000" stroke-width="1.0"/>
<line x1="610.9" y1="39.23" x2="614.69" y2="39.23" stroke="#000" stroke-width="1.0"/>
<line x1="502.6" y1="69.3" x2="502.6" y2="76.3" stroke="#000" stroke-width="1.0"/>
<line x1="500.70" y1="69.3" x2="504.5" y2="69.3" stroke="#000" stroke-width="1.0"/>
<line x1="500.70" y1="76.3" x2="504.5" y2="76.3" stroke="#000" stroke-width="1.0"/>
<line x1="521.2" y1="51.59" x2="521.2" y2="60.0" stroke="#000" stroke-width="1.0"/>
<line x1="519.30" y1="51.59" x2="523.1" y2="51.59" stroke="#000" stroke-width="1.0"/>
<line x1="519.30" y1="60.0" x2="523.1" y2="60.0" stroke="#000" stroke-width="1.0"/>
<line x1="539.8" y1="33.3" x2="539.8" y2="49.5" stroke="#000" stroke-width="1.0"/>
<line x1="537.9" y1="33.3" x2="541.69" y2="33.3" stroke="#000" stroke-width="1.0"/>
<line x1="537.9" y1="49.5" x2="541.69" y2="49.5" stroke="#000" stroke-width="1.0"/>
<line x1="558" y1="38.09" x2="558" y2="57.5" stroke="#000" stroke-width="1.0"/>
<line x1="556.1" y1="38.09" x2="559.9" y2="38.09" stroke="#000" stroke-width="1.0"/>
<line x1="556.1" y1="57.5" x2="559.9" y2="57.5" stroke="#000" stroke-width="1.0"/>
<line x1="576.3" y1="42.8" x2="576.3" y2="59.2" stroke="#000" stroke-width="1.0"/>
<line x1="574.4" y1="42.8" x2="578.19" y2="42.8" stroke="#000" stroke-width="1.0"/>
<line x1="574.4" y1="59.2" x2="578.19" y2="59.2" stroke="#000" stroke-width="1.0"/>
<line x1="594.4" y1="44.0" x2="594.4" y2="58.0" stroke="#000" stroke-width="1.0"/>
<line x1="592.5" y1="44.0" x2="596.3" y2="44.0" stroke="#000" stroke-width="1.0"/>
<line x1="592.5" y1="58.0" x2="596.3" y2="58.0" stroke="#000" stroke-width="1.0"/>
<line x1="612.8" y1="42.8" x2="612.8" y2="59.2" stroke="#000" stroke-width="1.0"/>
<line x1="610.9" y1="42.8" x2="614.69" y2="42.8" stroke="#000" stroke-width="1.0"/>
<line x1="610.9" y1="59.2" x2="614.69" y2="59.2" stroke="#000" stroke-width="1.0"/>
<line x1="502.6" y1="62.3" x2="502.6" y2="72.50" stroke="#000" stroke-width="1.0"/>
<line x1="500.70" y1="62.3" x2="504.5" y2="62.3" stroke="#000" stroke-width="1.0"/>
<line x1="500.70" y1="72.50" x2="504.5" y2="72.50" stroke="#000" stroke-width="1.0"/>
<line x1="521.2" y1="45.0" x2="521.2" y2="54.2" stroke="#000" stroke-width="1.0"/>
<line x1="519.30" y1="45.0" x2="523.1" y2="45.0" stroke="#000" stroke-width="1.0"/>
<line x1="519.30" y1="54.2" x2="523.1" y2="54.2" stroke="#000" stroke-width="1.0"/>
<line x1="539.8" y1="32.0" x2="539.8" y2="39.2" stroke="#000" stroke-width="1.0"/>
<line x1="537.9" y1="32.0" x2="541.69" y2="32.0" stroke="#000" stroke-width="1.0"/>
<line x1="537.9" y1="39.2" x2="541.69" y2="39.2" stroke="#000" stroke-width="1.0"/>
<line x1="558" y1="27.0" x2="558" y2="36.6" stroke="#000" stroke-width="1.0"/>
<line x1="556.1" y1="27.0" x2="559.9" y2="27.0" stroke="#000" stroke-width="1.0"/>
<line x1="556.1" y1="36.6" x2="559.9" y2="36.6" stroke="#000" stroke-width="1.0"/>
<line x1="576.3" y1="24.8" x2="576.3" y2="34.8" stroke="#000" stroke-width="1.0"/>
<line x1="574.4" y1="24.8" x2="578.19" y2="24.8" stroke="#000" stroke-width="1.0"/>
<line x1="574.4" y1="34.8" x2="578.19" y2="34.8" stroke="#000" stroke-width="1.0"/>
<line x1="594.4" y1="24.3" x2="594.4" y2="35.7" stroke="#000" stroke-width="1.0"/>
<line x1="592.5" y1="24.3" x2="596.3" y2="24.3" stroke="#000" stroke-width="1.0"/>
<line x1="592.5" y1="35.7" x2="596.3" y2="35.7" stroke="#000" stroke-width="1.0"/>
<line x1="612.8" y1="25.5" x2="612.8" y2="33.7" stroke="#000" stroke-width="1.0"/>
<line x1="610.9" y1="25.5" x2="614.69" y2="25.5" stroke="#000" stroke-width="1.0"/>
<line x1="610.9" y1="33.7" x2="614.69" y2="33.7" stroke="#000" stroke-width="1.0"/>
<circle cx="502.6" cy="69.3" r="2.1" fill="#000"/>
<circle cx="521.2" cy="51.8" r="2.1" fill="#000"/>
<circle cx="539.8" cy="37.6" r="2.1" fill="#000"/>
<circle cx="558" cy="36" r="2.1" fill="#000"/>
<circle cx="576.3" cy="33" r="2.1" fill="#000"/>
<circle cx="594.4" cy="30.5" r="2.1" fill="#000"/>
<circle cx="612.8" cy="31" r="2.1" fill="#000"/>
<rect x="500.5" y="69.10" width="4.2" height="4.2" fill="#000"/>
<rect x="519.1" y="52.1" width="4.2" height="4.2" fill="#000"/>
<rect x="537.69" y="37.5" width="4.2" height="4.2" fill="#000"/>
<rect x="555.9" y="36.4" width="4.2" height="4.2" fill="#000"/>
<rect x="574.19" y="33.4" width="4.2" height="4.2" fill="#000"/>
<rect x="592.3" y="33.4" width="4.2" height="4.2" fill="#000"/>
<rect x="610.69" y="30.29" width="4.2" height="4.2" fill="#000"/>
<polygon points="502.6,70.49 504.91,74.64 500.29,74.64" fill="#000"/>
<polygon points="521.2,53.48 523.51,57.64 518.89,57.64" fill="#000"/>
<polygon points="539.8,39.08 542.10,43.24 537.49,43.24" fill="#000"/>
<polygon points="558,45.48 560.31,49.64 555.69,49.64" fill="#000"/>
<polygon points="576.3,48.69 578.60,52.84 573.99,52.84" fill="#000"/>
<polygon points="594.4,48.69 596.70,52.84 592.09,52.84" fill="#000"/>
<polygon points="612.8,48.69 615.10,52.84 610.49,52.84" fill="#000"/>
<polygon points="502.6,69.71 504.91,65.55 500.29,65.55" fill="#000"/>
<polygon points="521.2,51.91 523.51,47.75 518.89,47.75" fill="#000"/>
<polygon points="539.8,37.91 542.10,33.75 537.49,33.75" fill="#000"/>
<polygon points="558,34.11 560.31,29.95 555.69,29.95" fill="#000"/>
<polygon points="576.3,32.11 578.60,27.95 573.99,27.95" fill="#000"/>
<polygon points="594.4,32.31 596.70,28.15 592.09,28.15" fill="#000"/>
<polygon points="612.8,31.91 615.10,27.75 610.49,27.75" fill="#000"/>
<text x="558.2" y="67.8" font-size="8.5" font-weight="normal" text-anchor="middle" fill="#111" stroke="#111" stroke-width="0.25">§</text>
<text x="576.5" y="70" font-size="8.5" font-weight="normal" text-anchor="middle" fill="#111" stroke="#111" stroke-width="0.25">§</text>
<text x="594.2" y="69.8" font-size="8.5" font-weight="normal" text-anchor="middle" fill="#111" stroke="#111" stroke-width="0.25">§§§</text>
<text x="613.2" y="69.8" font-size="8.5" font-weight="normal" text-anchor="middle" fill="#111" stroke="#111" stroke-width="0.25">§§</text>
<line x1="44.6" y1="170.48" x2="44.6" y2="277.1" stroke="#000" stroke-width="1.6"/>
<line x1="43.85" y1="274.1" x2="201.35" y2="274.1" stroke="#000" stroke-width="1.6"/>
<line x1="44.6" y1="274.1" x2="44.6" y2="277.1" stroke="#000" stroke-width="1.2"/>
<text x="44.6" y="285.8" font-size="7.5" font-weight="bold" text-anchor="middle" fill="#000" stroke="#000" stroke-width="0.3">-2</text>
<line x1="75.8" y1="274.1" x2="75.8" y2="277.1" stroke="#000" stroke-width="1.2"/>
<text x="75.8" y="285.8" font-size="7.5" font-weight="bold" text-anchor="middle" fill="#000" stroke="#000" stroke-width="0.3">-1</text>
<line x1="107.0" y1="274.1" x2="107.0" y2="277.1" stroke="#000" stroke-width="1.2"/>
<text x="107.0" y="285.8" font-size="7.5" font-weight="bold" text-anchor="middle" fill="#000" stroke="#000" stroke-width="0.3">0</text>
<line x1="138.2" y1="274.1" x2="138.2" y2="277.1" stroke="#000" stroke-width="1.2"/>
<text x="138.2" y="285.8" font-size="7.5" font-weight="bold" text-anchor="middle" fill="#000" stroke="#000" stroke-width="0.3">1</text>
<line x1="169.4" y1="274.1" x2="169.4" y2="277.1" stroke="#000" stroke-width="1.2"/>
<text x="169.4" y="285.8" font-size="7.5" font-weight="bold" text-anchor="middle" fill="#000" stroke="#000" stroke-width="0.3">2</text>
<line x1="200.6" y1="274.1" x2="200.6" y2="277.1" stroke="#000" stroke-width="1.2"/>
<text x="200.6" y="285.8" font-size="7.5" font-weight="bold" text-anchor="middle" fill="#000" stroke="#000" stroke-width="0.3">3</text>
<line x1="41.6" y1="274.1" x2="44.6" y2="274.1" stroke="#000" stroke-width="1.2"/>
<text x="40.6" y="277.02" font-size="7.5" font-weight="bold" text-anchor="end" fill="#000" stroke="#000" stroke-width="0.3">0</text>
<line x1="41.6" y1="239.56" x2="44.6" y2="239.56" stroke="#000" stroke-width="1.2"/>
<text x="40.6" y="242.48" font-size="7.5" font-weight="bold" text-anchor="end" fill="#000" stroke="#000" stroke-width="0.3">2000</text>
<line x1="41.6" y1="205.02" x2="44.6" y2="205.02" stroke="#000" stroke-width="1.2"/>
<text x="40.6" y="207.94" font-size="7.5" font-weight="bold" text-anchor="end" fill="#000" stroke="#000" stroke-width="0.3">4000</text>
<line x1="41.6" y1="170.48" x2="44.6" y2="170.48" stroke="#000" stroke-width="1.2"/>
<text x="40.6" y="173.40" font-size="7.5" font-weight="bold" text-anchor="end" fill="#000" stroke="#000" stroke-width="0.3">6000</text>
<text x="-1.6" y="174.2" font-size="13.8" font-weight="bold" text-anchor="start" fill="#000">D</text>
<text x="123.0" y="298.3" font-size="8.45" font-weight="bold" text-anchor="middle" fill="#000">log ADP (μM)</text>
<text x="8.5" y="222.0" font-size="8.2" font-weight="bold" text-anchor="middle" fill="#000" transform="rotate(-90 8.5 222.0)">Fibrinogen binding</text>
<text x="18.3" y="222.0" font-size="8.2" font-weight="bold" text-anchor="middle" fill="#000" transform="rotate(-90 18.3 222.0)">(median FI)</text>
<polyline points="69,218.5 87.6,216.5 106.6,210 125.4,200.5 144,199 163.1,203 182,202" fill="none" stroke="#333" stroke-width="0.6"/>
<polyline points="69,222 87.6,220 106.6,212 125.4,201 144,197 163.1,203.5 182,203" fill="none" stroke="#333" stroke-width="0.6"/>
<polyline points="69,224 87.6,222 106.6,215 125.4,207 144,204.5 163.1,204.5 182,205" fill="none" stroke="#333" stroke-width="0.6"/>
<polyline points="69,220 87.6,218.5 106.6,208 125.4,201.5 144,201.5 163.1,202.5 182,201" fill="none" stroke="#333" stroke-width="0.6"/>
<line x1="69" y1="203.3" x2="69" y2="233.5" stroke="#000" stroke-width="0.8"/>
<line x1="67.3" y1="203.3" x2="70.7" y2="203.3" stroke="#000" stroke-width="0.8"/>
<line x1="67.3" y1="233.5" x2="70.7" y2="233.5" stroke="#000" stroke-width="0.8"/>
<line x1="87.6" y1="202.0" x2="87.6" y2="232.3" stroke="#000" stroke-width="0.8"/>
<line x1="85.89" y1="202.0" x2="89.3" y2="202.0" stroke="#000" stroke-width="0.8"/>
<line x1="85.89" y1="232.3" x2="89.3" y2="232.3" stroke="#000" stroke-width="0.8"/>
<line x1="106.6" y1="187.4" x2="106.6" y2="240.5" stroke="#000" stroke-width="0.8"/>
<line x1="104.89" y1="187.4" x2="108.3" y2="187.4" stroke="#000" stroke-width="0.8"/>
<line x1="104.89" y1="240.5" x2="108.3" y2="240.5" stroke="#000" stroke-width="0.8"/>
<line x1="125.4" y1="182.5" x2="125.4" y2="218.6" stroke="#000" stroke-width="0.8"/>
<line x1="123.7" y1="182.5" x2="127.10" y2="182.5" stroke="#000" stroke-width="0.8"/>
<line x1="123.7" y1="218.6" x2="127.10" y2="218.6" stroke="#000" stroke-width="0.8"/>
<line x1="144" y1="182.8" x2="144" y2="217.7" stroke="#000" stroke-width="0.8"/>
<line x1="142.3" y1="182.8" x2="145.7" y2="182.8" stroke="#000" stroke-width="0.8"/>
<line x1="142.3" y1="217.7" x2="145.7" y2="217.7" stroke="#000" stroke-width="0.8"/>
<line x1="163.1" y1="178.8" x2="163.1" y2="228.1" stroke="#000" stroke-width="0.8"/>
<line x1="161.4" y1="178.8" x2="164.79" y2="178.8" stroke="#000" stroke-width="0.8"/>
<line x1="161.4" y1="228.1" x2="164.79" y2="228.1" stroke="#000" stroke-width="0.8"/>
<line x1="182" y1="186.7" x2="182" y2="216.5" stroke="#000" stroke-width="0.8"/>
<line x1="180.3" y1="186.7" x2="183.7" y2="186.7" stroke="#000" stroke-width="0.8"/>
<line x1="180.3" y1="216.5" x2="183.7" y2="216.5" stroke="#000" stroke-width="0.8"/>
<line x1="69" y1="207.04" x2="69" y2="231.2" stroke="#000" stroke-width="0.8"/>
<line x1="67.3" y1="207.04" x2="70.7" y2="207.04" stroke="#000" stroke-width="0.8"/>
<line x1="67.3" y1="231.2" x2="70.7" y2="231.2" stroke="#000" stroke-width="0.8"/>
<line x1="87.6" y1="205.6" x2="87.6" y2="229.84" stroke="#000" stroke-width="0.8"/>
<line x1="85.89" y1="205.6" x2="89.3" y2="205.6" stroke="#000" stroke-width="0.8"/>
<line x1="85.89" y1="229.84" x2="89.3" y2="229.84" stroke="#000" stroke-width="0.8"/>
<line x1="106.6" y1="192.32" x2="106.6" y2="234.8" stroke="#000" stroke-width="0.8"/>
<line x1="104.89" y1="192.32" x2="108.3" y2="192.32" stroke="#000" stroke-width="0.8"/>
<line x1="104.89" y1="234.8" x2="108.3" y2="234.8" stroke="#000" stroke-width="0.8"/>
<line x1="125.4" y1="186.2" x2="125.4" y2="215.07" stroke="#000" stroke-width="0.8"/>
<line x1="123.7" y1="186.2" x2="127.10" y2="186.2" stroke="#000" stroke-width="0.8"/>
<line x1="123.7" y1="215.07" x2="127.10" y2="215.07" stroke="#000" stroke-width="0.8"/>
<line x1="144" y1="185.64" x2="144" y2="213.56" stroke="#000" stroke-width="0.8"/>
<line x1="142.3" y1="185.64" x2="145.7" y2="185.64" stroke="#000" stroke-width="0.8"/>
<line x1="142.3" y1="213.56" x2="145.7" y2="213.56" stroke="#000" stroke-width="0.8"/>
<line x1="163.1" y1="183.74" x2="163.1" y2="223.18" stroke="#000" stroke-width="0.8"/>
<line x1="161.4" y1="183.74" x2="164.79" y2="183.74" stroke="#000" stroke-width="0.8"/>
<line x1="161.4" y1="223.18" x2="164.79" y2="223.18" stroke="#000" stroke-width="0.8"/>
<line x1="182" y1="189.95" x2="182" y2="213.8" stroke="#000" stroke-width="0.8"/>
<line x1="180.3" y1="189.95" x2="183.7" y2="189.95" stroke="#000" stroke-width="0.8"/>
<line x1="180.3" y1="213.8" x2="183.7" y2="213.8" stroke="#000" stroke-width="0.8"/>
<line x1="69" y1="211.16" x2="69" y2="229.89" stroke="#000" stroke-width="0.8"/>
<line x1="67.3" y1="211.16" x2="70.7" y2="211.16" stroke="#000" stroke-width="0.8"/>
<line x1="67.3" y1="229.89" x2="70.7" y2="229.89" stroke="#000" stroke-width="0.8"/>
<line x1="87.6" y1="209.6" x2="87.6" y2="228.38" stroke="#000" stroke-width="0.8"/>
<line x1="85.89" y1="209.6" x2="89.3" y2="209.6" stroke="#000" stroke-width="0.8"/>
<line x1="85.89" y1="228.38" x2="89.3" y2="228.38" stroke="#000" stroke-width="0.8"/>
<line x1="106.6" y1="197.88" x2="106.6" y2="230.81" stroke="#000" stroke-width="0.8"/>
<line x1="104.89" y1="197.88" x2="108.3" y2="197.88" stroke="#000" stroke-width="0.8"/>
<line x1="104.89" y1="230.81" x2="108.3" y2="230.81" stroke="#000" stroke-width="0.8"/>
<line x1="125.4" y1="191.81" x2="125.4" y2="214.19" stroke="#000" stroke-width="0.8"/>
<line x1="123.7" y1="191.81" x2="127.10" y2="191.81" stroke="#000" stroke-width="0.8"/>
<line x1="123.7" y1="214.19" x2="127.10" y2="214.19" stroke="#000" stroke-width="0.8"/>
<line x1="144" y1="191.04" x2="144" y2="212.68" stroke="#000" stroke-width="0.8"/>
<line x1="142.3" y1="191.04" x2="145.7" y2="191.04" stroke="#000" stroke-width="0.8"/>
<line x1="142.3" y1="212.68" x2="145.7" y2="212.68" stroke="#000" stroke-width="0.8"/>
<line x1="163.1" y1="188.56" x2="163.1" y2="219.13" stroke="#000" stroke-width="0.8"/>
<line x1="161.4" y1="188.56" x2="164.79" y2="188.56" stroke="#000" stroke-width="0.8"/>
<line x1="161.4" y1="219.13" x2="164.79" y2="219.13" stroke="#000" stroke-width="0.8"/>
<line x1="182" y1="193.65" x2="182" y2="212.13" stroke="#000" stroke-width="0.8"/>
<line x1="180.3" y1="193.65" x2="183.7" y2="193.65" stroke="#000" stroke-width="0.8"/>
<line x1="180.3" y1="212.13" x2="183.7" y2="212.13" stroke="#000" stroke-width="0.8"/>
<line x1="69" y1="212.48" x2="69" y2="226.07" stroke="#000" stroke-width="0.8"/>
<line x1="67.3" y1="212.48" x2="70.7" y2="212.48" stroke="#000" stroke-width="0.8"/>
<line x1="67.3" y1="226.07" x2="70.7" y2="226.07" stroke="#000" stroke-width="0.8"/>
<line x1="87.6" y1="211.07" x2="87.6" y2="224.71" stroke="#000" stroke-width="0.8"/>
<line x1="85.89" y1="211.07" x2="89.3" y2="211.07" stroke="#000" stroke-width="0.8"/>
<line x1="85.89" y1="224.71" x2="89.3" y2="224.71" stroke="#000" stroke-width="0.8"/>
<line x1="106.6" y1="198.73" x2="106.6" y2="222.62" stroke="#000" stroke-width="0.8"/>
<line x1="104.89" y1="198.73" x2="108.3" y2="198.73" stroke="#000" stroke-width="0.8"/>
<line x1="104.89" y1="222.62" x2="108.3" y2="222.62" stroke="#000" stroke-width="0.8"/>
<line x1="125.4" y1="192.95" x2="125.4" y2="209.19" stroke="#000" stroke-width="0.8"/>
<line x1="123.7" y1="192.95" x2="127.10" y2="192.95" stroke="#000" stroke-width="0.8"/>
<line x1="123.7" y1="209.19" x2="127.10" y2="209.19" stroke="#000" stroke-width="0.8"/>
<line x1="144" y1="193.08" x2="144" y2="208.79" stroke="#000" stroke-width="0.8"/>
<line x1="142.3" y1="193.08" x2="145.7" y2="193.08" stroke="#000" stroke-width="0.8"/>
<line x1="142.3" y1="208.79" x2="145.7" y2="208.79" stroke="#000" stroke-width="0.8"/>
<line x1="163.1" y1="191.83" x2="163.1" y2="214.02" stroke="#000" stroke-width="0.8"/>
<line x1="161.4" y1="191.83" x2="164.79" y2="191.83" stroke="#000" stroke-width="0.8"/>
<line x1="161.4" y1="214.02" x2="164.79" y2="214.02" stroke="#000" stroke-width="0.8"/>
<line x1="182" y1="194.56" x2="182" y2="207.97" stroke="#000" stroke-width="0.8"/>
<line x1="180.3" y1="194.56" x2="183.7" y2="194.56" stroke="#000" stroke-width="0.8"/>
<line x1="180.3" y1="207.97" x2="183.7" y2="207.97" stroke="#000" stroke-width="0.8"/>
<circle cx="69" cy="218.5" r="1.8" fill="#000"/>
<circle cx="87.6" cy="216.5" r="1.8" fill="#000"/>
<circle cx="106.6" cy="210" r="1.8" fill="#000"/>
<circle cx="125.4" cy="200.5" r="1.8" fill="#000"/>
<circle cx="144" cy="199" r="1.8" fill="#000"/>
<circle cx="163.1" cy="203" r="1.8" fill="#000"/>
<circle cx="182" cy="202" r="1.8" fill="#000"/>
<rect x="67.2" y="220.2" width="3.6" height="3.6" fill="#000"/>
<rect x="85.8" y="218.2" width="3.6" height="3.6" fill="#000"/>
<rect x="104.8" y="210.2" width="3.6" height="3.6" fill="#000"/>
<rect x="123.60" y="199.2" width="3.6" height="3.6" fill="#000"/>
<rect x="142.2" y="195.2" width="3.6" height="3.6" fill="#000"/>
<rect x="161.29" y="201.7" width="3.6" height="3.6" fill="#000"/>
<rect x="180.2" y="201.2" width="3.6" height="3.6" fill="#000"/>
<polygon points="69,222.02 70.98,225.58 67.02,225.58" fill="#000"/>
<polygon points="87.6,220.02 89.58,223.58 85.61,223.58" fill="#000"/>
<polygon points="106.6,213.02 108.58,216.58 104.61,216.58" fill="#000"/>
<polygon points="125.4,205.02 127.38,208.58 123.42,208.58" fill="#000"/>
<polygon points="144,202.52 145.98,206.08 142.02,206.08" fill="#000"/>
<polygon points="163.1,202.52 165.07,206.08 161.12,206.08" fill="#000"/>
<polygon points="182,203.02 183.98,206.58 180.02,206.58" fill="#000"/>
<polygon points="69,221.98 70.98,218.41 67.02,218.41" fill="#000"/>
<polygon points="87.6,220.48 89.58,216.91 85.61,216.91" fill="#000"/>
<polygon points="106.6,209.98 108.58,206.41 104.61,206.41" fill="#000"/>
<polygon points="125.4,203.48 127.38,199.91 123.42,199.91" fill="#000"/>
<polygon points="144,203.48 145.98,199.91 142.02,199.91" fill="#000"/>
<polygon points="163.1,204.48 165.07,200.91 161.12,200.91" fill="#000"/>
<polygon points="182,202.98 183.98,199.41 180.02,199.41" fill="#000"/>
<rect x="67.2" y="231.2" width="3.6" height="3.6" fill="#000"/>
<rect x="85.8" y="230.2" width="3.6" height="3.6" fill="#000"/>
<rect x="161.29" y="215.39" width="3.6" height="3.6" fill="#000"/>
<line x1="276.0" y1="170.2" x2="276.0" y2="275.0" stroke="#000" stroke-width="1.6"/>
<line x1="275.25" y1="272.0" x2="430.15" y2="272.0" stroke="#000" stroke-width="1.6"/>
<line x1="276.0" y1="272.0" x2="276.0" y2="275.0" stroke="#000" stroke-width="1.2"/>
<text x="276.0" y="283.3" font-size="7.2" font-weight="bold" text-anchor="middle" fill="#000" stroke="#000" stroke-width="0.3">0</text>
<line x1="314.35" y1="272.0" x2="314.35" y2="275.0" stroke="#000" stroke-width="1.2"/>
<text x="314.35" y="283.3" font-size="7.2" font-weight="bold" text-anchor="middle" fill="#000" stroke="#000" stroke-width="0.3">1</text>
<line x1="352.7" y1="272.0" x2="352.7" y2="275.0" stroke="#000" stroke-width="1.2"/>
<text x="352.7" y="283.3" font-size="7.2" font-weight="bold" text-anchor="middle" fill="#000" stroke="#000" stroke-width="0.3">2</text>
<line x1="391.05" y1="272.0" x2="391.05" y2="275.0" stroke="#000" stroke-width="1.2"/>
<text x="391.05" y="283.3" font-size="7.2" font-weight="bold" text-anchor="middle" fill="#000" stroke="#000" stroke-width="0.3">3</text>
<line x1="429.4" y1="272.0" x2="429.4" y2="275.0" stroke="#000" stroke-width="1.2"/>
<text x="429.4" y="283.3" font-size="7.2" font-weight="bold" text-anchor="middle" fill="#000" stroke="#000" stroke-width="0.3">4</text>
<line x1="273.0" y1="272.0" x2="276.0" y2="272.0" stroke="#000" stroke-width="1.2"/>
<text x="272.0" y="274.80" font-size="7.2" font-weight="bold" text-anchor="end" fill="#000" stroke="#000" stroke-width="0.3">0</text>
<line x1="273.0" y1="246.55" x2="276.0" y2="246.55" stroke="#000" stroke-width="1.2"/>
<text x="272.0" y="249.35" font-size="7.2" font-weight="bold" text-anchor="end" fill="#000" stroke="#000" stroke-width="0.3">2000</text>
<line x1="273.0" y1="221.1" x2="276.0" y2="221.1" stroke="#000" stroke-width="1.2"/>
<text x="272.0" y="223.90" font-size="7.2" font-weight="bold" text-anchor="end" fill="#000" stroke="#000" stroke-width="0.3">4000</text>
<line x1="273.0" y1="195.65" x2="276.0" y2="195.65" stroke="#000" stroke-width="1.2"/>
<text x="272.0" y="198.45" font-size="7.2" font-weight="bold" text-anchor="end" fill="#000" stroke="#000" stroke-width="0.3">6000</text>
<line x1="273.0" y1="170.2" x2="276.0" y2="170.2" stroke="#000" stroke-width="1.2"/>
<text x="272.0" y="173.00" font-size="7.2" font-weight="bold" text-anchor="end" fill="#000" stroke="#000" stroke-width="0.3">8000</text>
<text x="229.4" y="174.4" font-size="13.8" font-weight="bold" text-anchor="start" fill="#000">E</text>
<text x="353.0" y="296.1" font-size="8.35" font-weight="bold" text-anchor="middle" fill="#000">log CRP-xl (ng/mL)</text>
<text x="239.6" y="220.5" font-size="8.05" font-weight="bold" text-anchor="middle" fill="#000" transform="rotate(-90 239.6 220.5)">Fibrinogen binding</text>
<text x="248.3" y="220.5" font-size="8.05" font-weight="bold" text-anchor="middle" fill="#000" transform="rotate(-90 248.3 220.5)">(median FI)</text>
<polyline points="279.3,232.3 303,232.2 325.8,227.5 348.8,217.5 371.9,210 395,202 417.5,198" fill="none" stroke="#333" stroke-width="0.7"/>
<polyline points="279.3,235.2 303,235 325.8,229.5 348.8,219 371.9,211 395,204 417.5,200" fill="none" stroke="#333" stroke-width="0.7"/>
<polyline points="279.3,236.5 303,236 325.8,231 348.8,222 371.9,213.5 395,211 417.5,205.5" fill="none" stroke="#333" stroke-width="0.7"/>
<polyline points="279.3,235.8 303,235.5 325.8,230.2 348.8,218.5 371.9,210.5 395,203 417.5,199" fill="none" stroke="#333" stroke-width="0.7"/>
<line x1="279.3" y1="220.5" x2="279.3" y2="246.5" stroke="#000" stroke-width="0.75"/>
<line x1="277.40" y1="220.5" x2="281.2" y2="220.5" stroke="#000" stroke-width="0.75"/>
<line x1="277.40" y1="246.5" x2="281.2" y2="246.5" stroke="#000" stroke-width="0.75"/>
<line x1="303" y1="217.4" x2="303" y2="246.0" stroke="#000" stroke-width="0.75"/>
<line x1="301.1" y1="217.4" x2="304.9" y2="217.4" stroke="#000" stroke-width="0.75"/>
<line x1="301.1" y1="246.0" x2="304.9" y2="246.0" stroke="#000" stroke-width="0.75"/>
<line x1="325.8" y1="209.3" x2="325.8" y2="244.6" stroke="#000" stroke-width="0.75"/>
<line x1="323.90" y1="209.3" x2="327.7" y2="209.3" stroke="#000" stroke-width="0.75"/>
<line x1="323.90" y1="244.6" x2="327.7" y2="244.6" stroke="#000" stroke-width="0.75"/>
<line x1="348.8" y1="198.4" x2="348.8" y2="236.5" stroke="#000" stroke-width="0.75"/>
<line x1="346.90" y1="198.4" x2="350.7" y2="198.4" stroke="#000" stroke-width="0.75"/>
<line x1="346.90" y1="236.5" x2="350.7" y2="236.5" stroke="#000" stroke-width="0.75"/>
<line x1="371.9" y1="195.2" x2="371.9" y2="225.2" stroke="#000" stroke-width="0.75"/>
<line x1="370.0" y1="195.2" x2="373.79" y2="195.2" stroke="#000" stroke-width="0.75"/>
<line x1="370.0" y1="225.2" x2="373.79" y2="225.2" stroke="#000" stroke-width="0.75"/>
<line x1="395" y1="194.7" x2="395" y2="213.3" stroke="#000" stroke-width="0.75"/>
<line x1="393.1" y1="194.7" x2="396.9" y2="194.7" stroke="#000" stroke-width="0.75"/>
<line x1="393.1" y1="213.3" x2="396.9" y2="213.3" stroke="#000" stroke-width="0.75"/>
<line x1="417.5" y1="189.1" x2="417.5" y2="211.1" stroke="#000" stroke-width="0.75"/>
<line x1="415.6" y1="189.1" x2="419.4" y2="189.1" stroke="#000" stroke-width="0.75"/>
<line x1="415.6" y1="211.1" x2="419.4" y2="211.1" stroke="#000" stroke-width="0.75"/>
<line x1="279.3" y1="222.55" x2="279.3" y2="244.91" stroke="#000" stroke-width="0.75"/>
<line x1="277.40" y1="222.55" x2="281.2" y2="222.55" stroke="#000" stroke-width="0.75"/>
<line x1="277.40" y1="244.91" x2="281.2" y2="244.91" stroke="#000" stroke-width="0.75"/>
<line x1="303" y1="219.86" x2="303" y2="244.46" stroke="#000" stroke-width="0.75"/>
<line x1="301.1" y1="219.86" x2="304.9" y2="219.86" stroke="#000" stroke-width="0.75"/>
<line x1="301.1" y1="244.46" x2="304.9" y2="244.46" stroke="#000" stroke-width="0.75"/>
<line x1="325.8" y1="212.12" x2="325.8" y2="242.48" stroke="#000" stroke-width="0.75"/>
<line x1="323.90" y1="212.12" x2="327.7" y2="212.12" stroke="#000" stroke-width="0.75"/>
<line x1="323.90" y1="242.48" x2="327.7" y2="242.48" stroke="#000" stroke-width="0.75"/>
<line x1="348.8" y1="201.28" x2="348.8" y2="234.05" stroke="#000" stroke-width="0.75"/>
<line x1="346.90" y1="201.28" x2="350.7" y2="201.28" stroke="#000" stroke-width="0.75"/>
<line x1="346.90" y1="234.05" x2="350.7" y2="234.05" stroke="#000" stroke-width="0.75"/>
<line x1="371.9" y1="197.41" x2="371.9" y2="223.21" stroke="#000" stroke-width="0.75"/>
<line x1="370.0" y1="197.41" x2="373.79" y2="197.41" stroke="#000" stroke-width="0.75"/>
<line x1="370.0" y1="223.21" x2="373.79" y2="223.21" stroke="#000" stroke-width="0.75"/>
<line x1="395" y1="196.00" x2="395" y2="211.99" stroke="#000" stroke-width="0.75"/>
<line x1="393.1" y1="196.00" x2="396.9" y2="196.00" stroke="#000" stroke-width="0.75"/>
<line x1="393.1" y1="211.99" x2="396.9" y2="211.99" stroke="#000" stroke-width="0.75"/>
<line x1="417.5" y1="190.62" x2="417.5" y2="209.54" stroke="#000" stroke-width="0.75"/>
<line x1="415.6" y1="190.62" x2="419.4" y2="190.62" stroke="#000" stroke-width="0.75"/>
<line x1="415.6" y1="209.54" x2="419.4" y2="209.54" stroke="#000" stroke-width="0.75"/>
<line x1="279.3" y1="224.66" x2="279.3" y2="243.9" stroke="#000" stroke-width="0.75"/>
<line x1="277.40" y1="224.66" x2="281.2" y2="224.66" stroke="#000" stroke-width="0.75"/>
<line x1="277.40" y1="243.9" x2="281.2" y2="243.9" stroke="#000" stroke-width="0.75"/>
<line x1="303" y1="222.23" x2="303" y2="243.4" stroke="#000" stroke-width="0.75"/>
<line x1="301.1" y1="222.23" x2="304.9" y2="222.23" stroke="#000" stroke-width="0.75"/>
<line x1="301.1" y1="243.4" x2="304.9" y2="243.4" stroke="#000" stroke-width="0.75"/>
<line x1="325.8" y1="214.94" x2="325.8" y2="241.06" stroke="#000" stroke-width="0.75"/>
<line x1="323.90" y1="214.94" x2="327.7" y2="214.94" stroke="#000" stroke-width="0.75"/>
<line x1="323.90" y1="241.06" x2="327.7" y2="241.06" stroke="#000" stroke-width="0.75"/>
<line x1="348.8" y1="204.53" x2="348.8" y2="232.73" stroke="#000" stroke-width="0.75"/>
<line x1="346.90" y1="204.53" x2="350.7" y2="204.53" stroke="#000" stroke-width="0.75"/>
<line x1="346.90" y1="232.73" x2="350.7" y2="232.73" stroke="#000" stroke-width="0.75"/>
<line x1="371.9" y1="199.95" x2="371.9" y2="222.15" stroke="#000" stroke-width="0.75"/>
<line x1="370.0" y1="199.95" x2="373.79" y2="199.95" stroke="#000" stroke-width="0.75"/>
<line x1="370.0" y1="222.15" x2="373.79" y2="222.15" stroke="#000" stroke-width="0.75"/>
<line x1="395" y1="198.93" x2="395" y2="212.70" stroke="#000" stroke-width="0.75"/>
<line x1="393.1" y1="198.93" x2="396.9" y2="198.93" stroke="#000" stroke-width="0.75"/>
<line x1="393.1" y1="212.70" x2="396.9" y2="212.70" stroke="#000" stroke-width="0.75"/>
<line x1="417.5" y1="193.36" x2="417.5" y2="209.64" stroke="#000" stroke-width="0.75"/>
<line x1="415.6" y1="193.36" x2="419.4" y2="193.36" stroke="#000" stroke-width="0.75"/>
<line x1="415.6" y1="209.64" x2="419.4" y2="209.64" stroke="#000" stroke-width="0.75"/>
<line x1="279.3" y1="226.62" x2="279.3" y2="242.22" stroke="#000" stroke-width="0.75"/>
<line x1="277.40" y1="226.62" x2="281.2" y2="226.62" stroke="#000" stroke-width="0.75"/>
<line x1="277.40" y1="242.22" x2="281.2" y2="242.22" stroke="#000" stroke-width="0.75"/>
<line x1="303" y1="224.64" x2="303" y2="241.8" stroke="#000" stroke-width="0.75"/>
<line x1="301.1" y1="224.64" x2="304.9" y2="224.64" stroke="#000" stroke-width="0.75"/>
<line x1="301.1" y1="241.8" x2="304.9" y2="241.8" stroke="#000" stroke-width="0.75"/>
<line x1="325.8" y1="217.66" x2="325.8" y2="238.84" stroke="#000" stroke-width="0.75"/>
<line x1="323.90" y1="217.66" x2="327.7" y2="217.66" stroke="#000" stroke-width="0.75"/>
<line x1="323.90" y1="238.84" x2="327.7" y2="238.84" stroke="#000" stroke-width="0.75"/>
<line x1="348.8" y1="206.44" x2="348.8" y2="229.3" stroke="#000" stroke-width="0.75"/>
<line x1="346.90" y1="206.44" x2="350.7" y2="206.44" stroke="#000" stroke-width="0.75"/>
<line x1="346.90" y1="229.3" x2="350.7" y2="229.3" stroke="#000" stroke-width="0.75"/>
<line x1="371.9" y1="201.32" x2="371.9" y2="219.32" stroke="#000" stroke-width="0.75"/>
<line x1="370.0" y1="201.32" x2="373.79" y2="201.32" stroke="#000" stroke-width="0.75"/>
<line x1="370.0" y1="219.32" x2="373.79" y2="219.32" stroke="#000" stroke-width="0.75"/>
<line x1="395" y1="198.01" x2="395" y2="209.18" stroke="#000" stroke-width="0.75"/>
<line x1="393.1" y1="198.01" x2="396.9" y2="198.01" stroke="#000" stroke-width="0.75"/>
<line x1="393.1" y1="209.18" x2="396.9" y2="209.18" stroke="#000" stroke-width="0.75"/>
<line x1="417.5" y1="193.06" x2="417.5" y2="206.26" stroke="#000" stroke-width="0.75"/>
<line x1="415.6" y1="193.06" x2="419.4" y2="193.06" stroke="#000" stroke-width="0.75"/>
<line x1="415.6" y1="206.26" x2="419.4" y2="206.26" stroke="#000" stroke-width="0.75"/>
<circle cx="279.3" cy="232.3" r="2.0" fill="#000"/>
<circle cx="303" cy="232.2" r="2.0" fill="#000"/>
<circle cx="325.8" cy="227.5" r="2.0" fill="#000"/>
<circle cx="348.8" cy="217.5" r="2.0" fill="#000"/>
<circle cx="371.9" cy="210" r="2.0" fill="#000"/>
<circle cx="395" cy="202" r="2.0" fill="#000"/>
<circle cx="417.5" cy="198" r="2.0" fill="#000"/>
<rect x="277.3" y="233.2" width="4.0" height="4.0" fill="#000"/>
<rect x="301.0" y="233.0" width="4.0" height="4.0" fill="#000"/>
<rect x="323.8" y="227.5" width="4.0" height="4.0" fill="#000"/>
<rect x="346.8" y="217.0" width="4.0" height="4.0" fill="#000"/>
<rect x="369.9" y="209.0" width="4.0" height="4.0" fill="#000"/>
<rect x="393.0" y="202.0" width="4.0" height="4.0" fill="#000"/>
<rect x="415.5" y="198.0" width="4.0" height="4.0" fill="#000"/>
<polygon points="279.3,234.3 281.5,238.26 277.1,238.26" fill="#000"/>
<polygon points="303,233.8 305.2,237.76 300.8,237.76" fill="#000"/>
<polygon points="325.8,228.8 328.0,232.76 323.6,232.76" fill="#000"/>
<polygon points="348.8,219.8 351.0,223.76 346.6,223.76" fill="#000"/>
<polygon points="371.9,211.3 374.09,215.26 369.7,215.26" fill="#000"/>
<polygon points="395,208.8 397.2,212.76 392.8,212.76" fill="#000"/>
<polygon points="417.5,203.3 419.7,207.26 415.3,207.26" fill="#000"/>
<polygon points="279.3,238.0 281.5,234.04 277.1,234.04" fill="#000"/>
<polygon points="303,237.7 305.2,233.74 300.8,233.74" fill="#000"/>
<polygon points="325.8,232.39 328.0,228.44 323.6,228.44" fill="#000"/>
<polygon points="348.8,220.7 351.0,216.74 346.6,216.74" fill="#000"/>
<polygon points="371.9,212.7 374.09,208.74 369.7,208.74" fill="#000"/>
<polygon points="395,205.2 397.2,201.24 392.8,201.24" fill="#000"/>
<polygon points="417.5,201.2 419.7,197.24 415.3,197.24" fill="#000"/>
<rect x="324.0" y="239.39" width="3.6" height="3.6" fill="#000"/>
<rect x="347.0" y="234.39" width="3.6" height="3.6" fill="#000"/>
<line x1="490.4" y1="170.20" x2="490.4" y2="273.1" stroke="#000" stroke-width="1.6"/>
<line x1="489.65" y1="270.1" x2="642.15" y2="270.1" stroke="#000" stroke-width="1.6"/>
<line x1="490.4" y1="270.1" x2="490.4" y2="273.1" stroke="#000" stroke-width="1.2"/>
<text x="490.4" y="281.4" font-size="7.2" font-weight="bold" text-anchor="middle" fill="#000" stroke="#000" stroke-width="0.3">-1</text>
<line x1="520.6" y1="270.1" x2="520.6" y2="273.1" stroke="#000" stroke-width="1.2"/>
<text x="520.6" y="281.4" font-size="7.2" font-weight="bold" text-anchor="middle" fill="#000" stroke="#000" stroke-width="0.3">0</text>
<line x1="550.8" y1="270.1" x2="550.8" y2="273.1" stroke="#000" stroke-width="1.2"/>
<text x="550.8" y="281.4" font-size="7.2" font-weight="bold" text-anchor="middle" fill="#000" stroke="#000" stroke-width="0.3">1</text>
<line x1="581.0" y1="270.1" x2="581.0" y2="273.1" stroke="#000" stroke-width="1.2"/>
<text x="581.0" y="281.4" font-size="7.2" font-weight="bold" text-anchor="middle" fill="#000" stroke="#000" stroke-width="0.3">2</text>
<line x1="611.19" y1="270.1" x2="611.19" y2="273.1" stroke="#000" stroke-width="1.2"/>
<text x="611.19" y="281.4" font-size="7.2" font-weight="bold" text-anchor="middle" fill="#000" stroke="#000" stroke-width="0.3">3</text>
<line x1="641.4" y1="270.1" x2="641.4" y2="273.1" stroke="#000" stroke-width="1.2"/>
<text x="641.4" y="281.4" font-size="7.2" font-weight="bold" text-anchor="middle" fill="#000" stroke="#000" stroke-width="0.3">4</text>
<line x1="487.4" y1="270.1" x2="490.4" y2="270.1" stroke="#000" stroke-width="1.2"/>
<text x="486.4" y="272.90" font-size="7.2" font-weight="bold" text-anchor="end" fill="#000" stroke="#000" stroke-width="0.3">0</text>
<line x1="487.4" y1="236.8" x2="490.4" y2="236.8" stroke="#000" stroke-width="1.2"/>
<text x="486.4" y="239.60" font-size="7.2" font-weight="bold" text-anchor="end" fill="#000" stroke="#000" stroke-width="0.3">2000</text>
<line x1="487.4" y1="203.50" x2="490.4" y2="203.50" stroke="#000" stroke-width="1.2"/>
<text x="486.4" y="206.30" font-size="7.2" font-weight="bold" text-anchor="end" fill="#000" stroke="#000" stroke-width="0.3">4000</text>
<line x1="487.4" y1="170.20" x2="490.4" y2="170.20" stroke="#000" stroke-width="1.2"/>
<text x="486.4" y="173.00" font-size="7.2" font-weight="bold" text-anchor="end" fill="#000" stroke="#000" stroke-width="0.3">6000</text>
<text x="441.0" y="174.4" font-size="13.8" font-weight="bold" text-anchor="start" fill="#000">F</text>
<text x="565.9" y="293.1" font-size="8.23" font-weight="bold" text-anchor="middle" fill="#000">log PAR-1 activating peptide (μM)</text>
<text x="453.6" y="219.7" font-size="8.05" font-weight="bold" text-anchor="middle" fill="#000" transform="rotate(-90 453.6 219.7)">Fibrinogen binding</text>
<text x="463.0" y="219.7" font-size="8.05" font-weight="bold" text-anchor="middle" fill="#000" transform="rotate(-90 463.0 219.7)">(median FI)</text>
<polyline points="505.1,212 523.5,202.4 541.5,204.5 559.5,205 577.7,204.6 595.5,200 614.1,204" fill="none" stroke="#333" stroke-width="0.7"/>
<polyline points="505.1,210 523.5,195.5 541.5,198 559.5,198 577.7,194.5 595.5,200 614.1,202" fill="none" stroke="#333" stroke-width="0.7"/>
<polyline points="505.1,211 523.5,196 541.5,202 559.5,215.5 577.7,218 595.5,220.5 614.1,223.2" fill="none" stroke="#333" stroke-width="0.7"/>
<polyline points="505.1,209.5 523.5,196.5 541.5,199 559.5,201 577.7,200 595.5,201 614.1,203" fill="none" stroke="#333" stroke-width="0.7"/>
<line x1="505.1" y1="184.6" x2="505.1" y2="233.8" stroke="#000" stroke-width="0.8"/>
<line x1="503.3" y1="184.6" x2="506.90" y2="184.6" stroke="#000" stroke-width="0.8"/>
<line x1="503.3" y1="233.8" x2="506.90" y2="233.8" stroke="#000" stroke-width="0.8"/>
<line x1="523.5" y1="176.6" x2="523.5" y2="223.2" stroke="#000" stroke-width="0.8"/>
<line x1="521.7" y1="176.6" x2="525.3" y2="176.6" stroke="#000" stroke-width="0.8"/>
<line x1="521.7" y1="223.2" x2="525.3" y2="223.2" stroke="#000" stroke-width="0.8"/>
<line x1="541.5" y1="189.1" x2="541.5" y2="219.2" stroke="#000" stroke-width="0.8"/>
<line x1="539.7" y1="189.1" x2="543.3" y2="189.1" stroke="#000" stroke-width="0.8"/>
<line x1="539.7" y1="219.2" x2="543.3" y2="219.2" stroke="#000" stroke-width="0.8"/>
<line x1="559.5" y1="186.5" x2="559.5" y2="221.9" stroke="#000" stroke-width="0.8"/>
<line x1="557.7" y1="186.5" x2="561.3" y2="186.5" stroke="#000" stroke-width="0.8"/>
<line x1="557.7" y1="221.9" x2="561.3" y2="221.9" stroke="#000" stroke-width="0.8"/>
<line x1="577.7" y1="185.4" x2="577.7" y2="223.2" stroke="#000" stroke-width="0.8"/>
<line x1="575.90" y1="185.4" x2="579.5" y2="185.4" stroke="#000" stroke-width="0.8"/>
<line x1="575.90" y1="223.2" x2="579.5" y2="223.2" stroke="#000" stroke-width="0.8"/>
<line x1="595.5" y1="190.7" x2="595.5" y2="226.4" stroke="#000" stroke-width="0.8"/>
<line x1="593.7" y1="190.7" x2="597.3" y2="190.7" stroke="#000" stroke-width="0.8"/>
<line x1="593.7" y1="226.4" x2="597.3" y2="226.4" stroke="#000" stroke-width="0.8"/>
<line x1="614.1" y1="191.8" x2="614.1" y2="228.5" stroke="#000" stroke-width="0.8"/>
<line x1="612.30" y1="191.8" x2="615.9" y2="191.8" stroke="#000" stroke-width="0.8"/>
<line x1="612.30" y1="228.5" x2="615.9" y2="228.5" stroke="#000" stroke-width="0.8"/>
<line x1="505.1" y1="189.68" x2="505.1" y2="229.04" stroke="#000" stroke-width="0.8"/>
<line x1="503.3" y1="189.68" x2="506.90" y2="189.68" stroke="#000" stroke-width="0.8"/>
<line x1="503.3" y1="229.04" x2="506.90" y2="229.04" stroke="#000" stroke-width="0.8"/>
<line x1="523.5" y1="180.38" x2="523.5" y2="217.66" stroke="#000" stroke-width="0.8"/>
<line x1="521.7" y1="180.38" x2="525.3" y2="180.38" stroke="#000" stroke-width="0.8"/>
<line x1="521.7" y1="217.66" x2="525.3" y2="217.66" stroke="#000" stroke-width="0.8"/>
<line x1="541.5" y1="190.88" x2="541.5" y2="214.95" stroke="#000" stroke-width="0.8"/>
<line x1="539.7" y1="190.88" x2="543.3" y2="190.88" stroke="#000" stroke-width="0.8"/>
<line x1="539.7" y1="214.95" x2="543.3" y2="214.95" stroke="#000" stroke-width="0.8"/>
<line x1="559.5" y1="188.8" x2="559.5" y2="217.12" stroke="#000" stroke-width="0.8"/>
<line x1="557.7" y1="188.8" x2="561.3" y2="188.8" stroke="#000" stroke-width="0.8"/>
<line x1="557.7" y1="217.12" x2="561.3" y2="217.12" stroke="#000" stroke-width="0.8"/>
<line x1="577.7" y1="187.22" x2="577.7" y2="217.45" stroke="#000" stroke-width="0.8"/>
<line x1="575.90" y1="187.22" x2="579.5" y2="187.22" stroke="#000" stroke-width="0.8"/>
<line x1="575.90" y1="217.45" x2="579.5" y2="217.45" stroke="#000" stroke-width="0.8"/>
<line x1="595.5" y1="192.56" x2="595.5" y2="221.12" stroke="#000" stroke-width="0.8"/>
<line x1="593.7" y1="192.56" x2="597.3" y2="192.56" stroke="#000" stroke-width="0.8"/>
<line x1="593.7" y1="221.12" x2="597.3" y2="221.12" stroke="#000" stroke-width="0.8"/>
<line x1="614.1" y1="193.84" x2="614.1" y2="223.2" stroke="#000" stroke-width="0.8"/>
<line x1="612.30" y1="193.84" x2="615.9" y2="193.84" stroke="#000" stroke-width="0.8"/>
<line x1="612.30" y1="223.2" x2="615.9" y2="223.2" stroke="#000" stroke-width="0.8"/>
<line x1="505.1" y1="194.63" x2="505.1" y2="225.13" stroke="#000" stroke-width="0.8"/>
<line x1="503.3" y1="194.63" x2="506.90" y2="194.63" stroke="#000" stroke-width="0.8"/>
<line x1="503.3" y1="225.13" x2="506.90" y2="225.13" stroke="#000" stroke-width="0.8"/>
<line x1="523.5" y1="183.97" x2="523.5" y2="212.86" stroke="#000" stroke-width="0.8"/>
<line x1="521.7" y1="183.97" x2="525.3" y2="183.97" stroke="#000" stroke-width="0.8"/>
<line x1="521.7" y1="212.86" x2="525.3" y2="212.86" stroke="#000" stroke-width="0.8"/>
<line x1="541.5" y1="194.00" x2="541.5" y2="212.66" stroke="#000" stroke-width="0.8"/>
<line x1="539.7" y1="194.00" x2="543.3" y2="194.00" stroke="#000" stroke-width="0.8"/>
<line x1="539.7" y1="212.66" x2="543.3" y2="212.66" stroke="#000" stroke-width="0.8"/>
<line x1="559.5" y1="197.52" x2="559.5" y2="219.46" stroke="#000" stroke-width="0.8"/>
<line x1="557.7" y1="197.52" x2="561.3" y2="197.52" stroke="#000" stroke-width="0.8"/>
<line x1="557.7" y1="219.46" x2="561.3" y2="219.46" stroke="#000" stroke-width="0.8"/>
<line x1="577.7" y1="197.78" x2="577.7" y2="221.22" stroke="#000" stroke-width="0.8"/>
<line x1="575.90" y1="197.78" x2="579.5" y2="197.78" stroke="#000" stroke-width="0.8"/>
<line x1="575.90" y1="221.22" x2="579.5" y2="221.22" stroke="#000" stroke-width="0.8"/>
<line x1="595.5" y1="202.02" x2="595.5" y2="224.15" stroke="#000" stroke-width="0.8"/>
<line x1="593.7" y1="202.02" x2="597.3" y2="202.02" stroke="#000" stroke-width="0.8"/>
<line x1="593.7" y1="224.15" x2="597.3" y2="224.15" stroke="#000" stroke-width="0.8"/>
<line x1="614.1" y1="203.73" x2="614.1" y2="226.48" stroke="#000" stroke-width="0.8"/>
<line x1="612.30" y1="203.73" x2="615.9" y2="203.73" stroke="#000" stroke-width="0.8"/>
<line x1="612.30" y1="226.48" x2="615.9" y2="226.48" stroke="#000" stroke-width="0.8"/>
<line x1="505.1" y1="198.29" x2="505.1" y2="220.43" stroke="#000" stroke-width="0.8"/>
<line x1="503.3" y1="198.29" x2="506.90" y2="198.29" stroke="#000" stroke-width="0.8"/>
<line x1="503.3" y1="220.43" x2="506.90" y2="220.43" stroke="#000" stroke-width="0.8"/>
<line x1="523.5" y1="187.54" x2="523.5" y2="208.51" stroke="#000" stroke-width="0.8"/>
<line x1="521.7" y1="187.54" x2="525.3" y2="187.54" stroke="#000" stroke-width="0.8"/>
<line x1="521.7" y1="208.51" x2="525.3" y2="208.51" stroke="#000" stroke-width="0.8"/>
<line x1="541.5" y1="194.54" x2="541.5" y2="208.09" stroke="#000" stroke-width="0.8"/>
<line x1="539.7" y1="194.54" x2="543.3" y2="194.54" stroke="#000" stroke-width="0.8"/>
<line x1="539.7" y1="208.09" x2="543.3" y2="208.09" stroke="#000" stroke-width="0.8"/>
<line x1="559.5" y1="194.47" x2="559.5" y2="210.40" stroke="#000" stroke-width="0.8"/>
<line x1="557.7" y1="194.47" x2="561.3" y2="194.47" stroke="#000" stroke-width="0.8"/>
<line x1="557.7" y1="210.40" x2="561.3" y2="210.40" stroke="#000" stroke-width="0.8"/>
<line x1="577.7" y1="193.43" x2="577.7" y2="210.44" stroke="#000" stroke-width="0.8"/>
<line x1="575.90" y1="193.43" x2="579.5" y2="193.43" stroke="#000" stroke-width="0.8"/>
<line x1="575.90" y1="210.44" x2="579.5" y2="210.44" stroke="#000" stroke-width="0.8"/>
<line x1="595.5" y1="196.36" x2="595.5" y2="212.43" stroke="#000" stroke-width="0.8"/>
<line x1="593.7" y1="196.36" x2="597.3" y2="196.36" stroke="#000" stroke-width="0.8"/>
<line x1="593.7" y1="212.43" x2="597.3" y2="212.43" stroke="#000" stroke-width="0.8"/>
<line x1="614.1" y1="197.96" x2="614.1" y2="214.47" stroke="#000" stroke-width="0.8"/>
<line x1="612.30" y1="197.96" x2="615.9" y2="197.96" stroke="#000" stroke-width="0.8"/>
<line x1="612.30" y1="214.47" x2="615.9" y2="214.47" stroke="#000" stroke-width="0.8"/>
<circle cx="505.1" cy="212" r="1.9" fill="#000"/>
<circle cx="523.5" cy="202.4" r="1.9" fill="#000"/>
<circle cx="541.5" cy="204.5" r="1.9" fill="#000"/>
<circle cx="559.5" cy="205" r="1.9" fill="#000"/>
<circle cx="577.7" cy="204.6" r="1.9" fill="#000"/>
<circle cx="595.5" cy="200" r="1.9" fill="#000"/>
<circle cx="614.1" cy="204" r="1.9" fill="#000"/>
<rect x="503.20" y="208.1" width="3.8" height="3.8" fill="#000"/>
<rect x="521.6" y="193.6" width="3.8" height="3.8" fill="#000"/>
<rect x="539.6" y="196.1" width="3.8" height="3.8" fill="#000"/>
<rect x="557.6" y="196.1" width="3.8" height="3.8" fill="#000"/>
<rect x="575.80" y="192.6" width="3.8" height="3.8" fill="#000"/>
<rect x="593.6" y="198.1" width="3.8" height="3.8" fill="#000"/>
<rect x="612.2" y="200.1" width="3.8" height="3.8" fill="#000"/>
<polygon points="505.1,208.91 507.19,212.67 503.01,212.67" fill="#000"/>
<polygon points="523.5,193.91 525.59,197.67 521.41,197.67" fill="#000"/>
<polygon points="541.5,199.91 543.59,203.67 539.41,203.67" fill="#000"/>
<polygon points="559.5,213.41 561.59,217.17 557.41,217.17" fill="#000"/>
<polygon points="577.7,215.91 579.79,219.67 575.61,219.67" fill="#000"/>
<polygon points="595.5,218.41 597.59,222.17 593.41,222.17" fill="#000"/>
<polygon points="614.1,221.10 616.19,224.87 612.01,224.87" fill="#000"/>
<polygon points="505.1,211.59 507.19,207.82 503.01,207.82" fill="#000"/>
<polygon points="523.5,198.59 525.59,194.82 521.41,194.82" fill="#000"/>
<polygon points="541.5,201.09 543.59,197.32 539.41,197.32" fill="#000"/>
<polygon points="559.5,203.09 561.59,199.32 557.41,199.32" fill="#000"/>
<polygon points="577.7,202.09 579.79,198.32 575.61,198.32" fill="#000"/>
<polygon points="595.5,203.09 597.59,199.32 593.41,199.32" fill="#000"/>
<polygon points="614.1,205.09 616.19,201.32 612.01,201.32" fill="#000"/>
<rect x="503.20" y="229.79" width="3.8" height="3.8" fill="#000"/>
<text x="595.5" y="236.8" font-size="8.5" font-weight="normal" text-anchor="middle" fill="#111" stroke="#111" stroke-width="0.25">§</text>
<line x1="630" y1="148.3" x2="638.7" y2="148.3" stroke="#000" stroke-width="0.9"/>
<circle cx="634.5" cy="148.3" r="1.7" fill="#000"/>
<text x="644.2" y="150.8" font-size="7" font-weight="normal" text-anchor="start" fill="#333">Blanco</text>
<line x1="630" y1="160.0" x2="638.7" y2="160.0" stroke="#000" stroke-width="0.9"/>
<rect x="632.8" y="158.3" width="3.4" height="3.4" fill="#000"/>
<text x="644.2" y="162.5" font-size="7" font-weight="normal" text-anchor="start" fill="#333">Sunitinib</text>
<line x1="630" y1="171.2" x2="638.7" y2="171.2" stroke="#000" stroke-width="0.9"/>
<polygon points="634.5,169.32 636.37,172.69 632.63,172.69" fill="#000"/>
<text x="644.2" y="173.7" font-size="7" font-weight="normal" text-anchor="start" fill="#333">Sorafenib</text>
<line x1="630" y1="182.0" x2="638.7" y2="182.0" stroke="#000" stroke-width="0.9"/>
<polygon points="634.5,183.87 636.37,180.50 632.63,180.50" fill="#000"/>
<text x="644.2" y="184.5" font-size="7" font-weight="normal" text-anchor="start" fill="#333">Bevacizumab</text>
</svg></div>
</body></html>
